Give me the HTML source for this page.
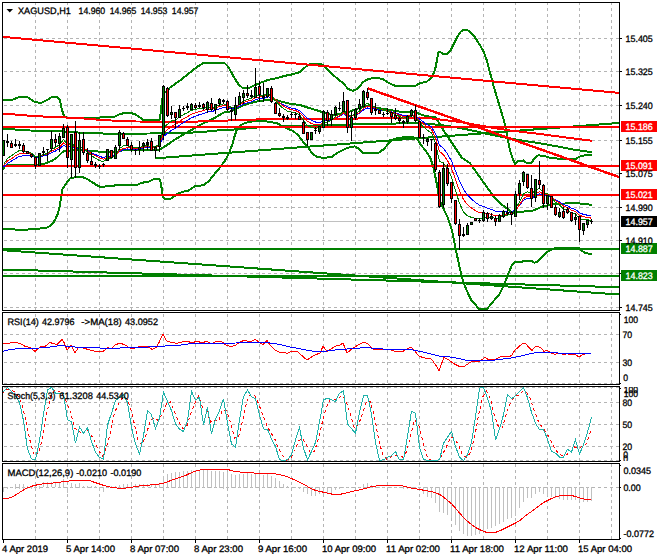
<!DOCTYPE html><html><head><meta charset="utf-8"><style>html,body{margin:0;padding:0;background:#fff;width:660px;height:560px;overflow:hidden}svg text{font-family:"Liberation Sans",sans-serif}</style></head><body><svg width="660" height="560" viewBox="0 0 660 560" shape-rendering="crispEdges" style="display:block">
<rect x="0" y="0" width="660" height="560" fill="#ffffff"/>
<line x1="35.5" y1="3" x2="35.5" y2="310" stroke="#b4b4b4" stroke-width="1" stroke-dasharray="3,3" stroke-dashoffset="1"/>
<line x1="67.5" y1="3" x2="67.5" y2="310" stroke="#b4b4b4" stroke-width="1" stroke-dasharray="3,3" stroke-dashoffset="1"/>
<line x1="99.5" y1="3" x2="99.5" y2="310" stroke="#b4b4b4" stroke-width="1" stroke-dasharray="3,3" stroke-dashoffset="1"/>
<line x1="131.5" y1="3" x2="131.5" y2="310" stroke="#b4b4b4" stroke-width="1" stroke-dasharray="3,3" stroke-dashoffset="1"/>
<line x1="163.5" y1="3" x2="163.5" y2="310" stroke="#b4b4b4" stroke-width="1" stroke-dasharray="3,3" stroke-dashoffset="1"/>
<line x1="195.5" y1="3" x2="195.5" y2="310" stroke="#b4b4b4" stroke-width="1" stroke-dasharray="3,3" stroke-dashoffset="1"/>
<line x1="227.5" y1="3" x2="227.5" y2="310" stroke="#b4b4b4" stroke-width="1" stroke-dasharray="3,3" stroke-dashoffset="1"/>
<line x1="259.5" y1="3" x2="259.5" y2="310" stroke="#b4b4b4" stroke-width="1" stroke-dasharray="3,3" stroke-dashoffset="1"/>
<line x1="291.5" y1="3" x2="291.5" y2="310" stroke="#b4b4b4" stroke-width="1" stroke-dasharray="3,3" stroke-dashoffset="1"/>
<line x1="323.5" y1="3" x2="323.5" y2="310" stroke="#b4b4b4" stroke-width="1" stroke-dasharray="3,3" stroke-dashoffset="1"/>
<line x1="355.5" y1="3" x2="355.5" y2="310" stroke="#b4b4b4" stroke-width="1" stroke-dasharray="3,3" stroke-dashoffset="1"/>
<line x1="387.5" y1="3" x2="387.5" y2="310" stroke="#b4b4b4" stroke-width="1" stroke-dasharray="3,3" stroke-dashoffset="1"/>
<line x1="419.5" y1="3" x2="419.5" y2="310" stroke="#b4b4b4" stroke-width="1" stroke-dasharray="3,3" stroke-dashoffset="1"/>
<line x1="451.5" y1="3" x2="451.5" y2="310" stroke="#b4b4b4" stroke-width="1" stroke-dasharray="3,3" stroke-dashoffset="1"/>
<line x1="483.5" y1="3" x2="483.5" y2="310" stroke="#b4b4b4" stroke-width="1" stroke-dasharray="3,3" stroke-dashoffset="1"/>
<line x1="515.5" y1="3" x2="515.5" y2="310" stroke="#b4b4b4" stroke-width="1" stroke-dasharray="3,3" stroke-dashoffset="1"/>
<line x1="547.5" y1="3" x2="547.5" y2="310" stroke="#b4b4b4" stroke-width="1" stroke-dasharray="3,3" stroke-dashoffset="1"/>
<line x1="579.5" y1="3" x2="579.5" y2="310" stroke="#b4b4b4" stroke-width="1" stroke-dasharray="3,3" stroke-dashoffset="1"/>
<line x1="611.5" y1="3" x2="611.5" y2="310" stroke="#b4b4b4" stroke-width="1" stroke-dasharray="3,3" stroke-dashoffset="1"/>
<line x1="3" y1="38.5" x2="619" y2="38.5" stroke="#b4b4b4" stroke-width="1" stroke-dasharray="3,3" stroke-dashoffset="5"/>
<line x1="3" y1="71.5" x2="619" y2="71.5" stroke="#b4b4b4" stroke-width="1" stroke-dasharray="3,3" stroke-dashoffset="5"/>
<line x1="3" y1="105.5" x2="619" y2="105.5" stroke="#b4b4b4" stroke-width="1" stroke-dasharray="3,3" stroke-dashoffset="5"/>
<line x1="3" y1="140.5" x2="619" y2="140.5" stroke="#b4b4b4" stroke-width="1" stroke-dasharray="3,3" stroke-dashoffset="5"/>
<line x1="3" y1="173.5" x2="619" y2="173.5" stroke="#b4b4b4" stroke-width="1" stroke-dasharray="3,3" stroke-dashoffset="5"/>
<line x1="3" y1="207.5" x2="619" y2="207.5" stroke="#b4b4b4" stroke-width="1" stroke-dasharray="3,3" stroke-dashoffset="5"/>
<line x1="3" y1="240.5" x2="619" y2="240.5" stroke="#b4b4b4" stroke-width="1" stroke-dasharray="3,3" stroke-dashoffset="5"/>
<line x1="3" y1="273.5" x2="619" y2="273.5" stroke="#b4b4b4" stroke-width="1" stroke-dasharray="3,3" stroke-dashoffset="5"/>
<line x1="3" y1="307.5" x2="619" y2="307.5" stroke="#b4b4b4" stroke-width="1" stroke-dasharray="3,3" stroke-dashoffset="5"/>
<line x1="35.5" y1="313" x2="35.5" y2="384" stroke="#b4b4b4" stroke-width="1" stroke-dasharray="3,3" stroke-dashoffset="5"/>
<line x1="67.5" y1="313" x2="67.5" y2="384" stroke="#b4b4b4" stroke-width="1" stroke-dasharray="3,3" stroke-dashoffset="5"/>
<line x1="99.5" y1="313" x2="99.5" y2="384" stroke="#b4b4b4" stroke-width="1" stroke-dasharray="3,3" stroke-dashoffset="5"/>
<line x1="131.5" y1="313" x2="131.5" y2="384" stroke="#b4b4b4" stroke-width="1" stroke-dasharray="3,3" stroke-dashoffset="5"/>
<line x1="163.5" y1="313" x2="163.5" y2="384" stroke="#b4b4b4" stroke-width="1" stroke-dasharray="3,3" stroke-dashoffset="5"/>
<line x1="195.5" y1="313" x2="195.5" y2="384" stroke="#b4b4b4" stroke-width="1" stroke-dasharray="3,3" stroke-dashoffset="5"/>
<line x1="227.5" y1="313" x2="227.5" y2="384" stroke="#b4b4b4" stroke-width="1" stroke-dasharray="3,3" stroke-dashoffset="5"/>
<line x1="259.5" y1="313" x2="259.5" y2="384" stroke="#b4b4b4" stroke-width="1" stroke-dasharray="3,3" stroke-dashoffset="5"/>
<line x1="291.5" y1="313" x2="291.5" y2="384" stroke="#b4b4b4" stroke-width="1" stroke-dasharray="3,3" stroke-dashoffset="5"/>
<line x1="323.5" y1="313" x2="323.5" y2="384" stroke="#b4b4b4" stroke-width="1" stroke-dasharray="3,3" stroke-dashoffset="5"/>
<line x1="355.5" y1="313" x2="355.5" y2="384" stroke="#b4b4b4" stroke-width="1" stroke-dasharray="3,3" stroke-dashoffset="5"/>
<line x1="387.5" y1="313" x2="387.5" y2="384" stroke="#b4b4b4" stroke-width="1" stroke-dasharray="3,3" stroke-dashoffset="5"/>
<line x1="419.5" y1="313" x2="419.5" y2="384" stroke="#b4b4b4" stroke-width="1" stroke-dasharray="3,3" stroke-dashoffset="5"/>
<line x1="451.5" y1="313" x2="451.5" y2="384" stroke="#b4b4b4" stroke-width="1" stroke-dasharray="3,3" stroke-dashoffset="5"/>
<line x1="483.5" y1="313" x2="483.5" y2="384" stroke="#b4b4b4" stroke-width="1" stroke-dasharray="3,3" stroke-dashoffset="5"/>
<line x1="515.5" y1="313" x2="515.5" y2="384" stroke="#b4b4b4" stroke-width="1" stroke-dasharray="3,3" stroke-dashoffset="5"/>
<line x1="547.5" y1="313" x2="547.5" y2="384" stroke="#b4b4b4" stroke-width="1" stroke-dasharray="3,3" stroke-dashoffset="5"/>
<line x1="579.5" y1="313" x2="579.5" y2="384" stroke="#b4b4b4" stroke-width="1" stroke-dasharray="3,3" stroke-dashoffset="5"/>
<line x1="611.5" y1="313" x2="611.5" y2="384" stroke="#b4b4b4" stroke-width="1" stroke-dasharray="3,3" stroke-dashoffset="5"/>
<line x1="3" y1="334.5" x2="619" y2="334.5" stroke="#b4b4b4" stroke-width="1" stroke-dasharray="3,3" stroke-dashoffset="5"/>
<line x1="3" y1="362.5" x2="619" y2="362.5" stroke="#b4b4b4" stroke-width="1" stroke-dasharray="3,3" stroke-dashoffset="5"/>
<line x1="3" y1="383.5" x2="619" y2="383.5" stroke="#b4b4b4" stroke-width="1" stroke-dasharray="3,3" stroke-dashoffset="5"/>
<line x1="35.5" y1="387" x2="35.5" y2="461" stroke="#b4b4b4" stroke-width="1" stroke-dasharray="3,3" stroke-dashoffset="1"/>
<line x1="67.5" y1="387" x2="67.5" y2="461" stroke="#b4b4b4" stroke-width="1" stroke-dasharray="3,3" stroke-dashoffset="1"/>
<line x1="99.5" y1="387" x2="99.5" y2="461" stroke="#b4b4b4" stroke-width="1" stroke-dasharray="3,3" stroke-dashoffset="1"/>
<line x1="131.5" y1="387" x2="131.5" y2="461" stroke="#b4b4b4" stroke-width="1" stroke-dasharray="3,3" stroke-dashoffset="1"/>
<line x1="163.5" y1="387" x2="163.5" y2="461" stroke="#b4b4b4" stroke-width="1" stroke-dasharray="3,3" stroke-dashoffset="1"/>
<line x1="195.5" y1="387" x2="195.5" y2="461" stroke="#b4b4b4" stroke-width="1" stroke-dasharray="3,3" stroke-dashoffset="1"/>
<line x1="227.5" y1="387" x2="227.5" y2="461" stroke="#b4b4b4" stroke-width="1" stroke-dasharray="3,3" stroke-dashoffset="1"/>
<line x1="259.5" y1="387" x2="259.5" y2="461" stroke="#b4b4b4" stroke-width="1" stroke-dasharray="3,3" stroke-dashoffset="1"/>
<line x1="291.5" y1="387" x2="291.5" y2="461" stroke="#b4b4b4" stroke-width="1" stroke-dasharray="3,3" stroke-dashoffset="1"/>
<line x1="323.5" y1="387" x2="323.5" y2="461" stroke="#b4b4b4" stroke-width="1" stroke-dasharray="3,3" stroke-dashoffset="1"/>
<line x1="355.5" y1="387" x2="355.5" y2="461" stroke="#b4b4b4" stroke-width="1" stroke-dasharray="3,3" stroke-dashoffset="1"/>
<line x1="387.5" y1="387" x2="387.5" y2="461" stroke="#b4b4b4" stroke-width="1" stroke-dasharray="3,3" stroke-dashoffset="1"/>
<line x1="419.5" y1="387" x2="419.5" y2="461" stroke="#b4b4b4" stroke-width="1" stroke-dasharray="3,3" stroke-dashoffset="1"/>
<line x1="451.5" y1="387" x2="451.5" y2="461" stroke="#b4b4b4" stroke-width="1" stroke-dasharray="3,3" stroke-dashoffset="1"/>
<line x1="483.5" y1="387" x2="483.5" y2="461" stroke="#b4b4b4" stroke-width="1" stroke-dasharray="3,3" stroke-dashoffset="1"/>
<line x1="515.5" y1="387" x2="515.5" y2="461" stroke="#b4b4b4" stroke-width="1" stroke-dasharray="3,3" stroke-dashoffset="1"/>
<line x1="547.5" y1="387" x2="547.5" y2="461" stroke="#b4b4b4" stroke-width="1" stroke-dasharray="3,3" stroke-dashoffset="1"/>
<line x1="579.5" y1="387" x2="579.5" y2="461" stroke="#b4b4b4" stroke-width="1" stroke-dasharray="3,3" stroke-dashoffset="1"/>
<line x1="611.5" y1="387" x2="611.5" y2="461" stroke="#b4b4b4" stroke-width="1" stroke-dasharray="3,3" stroke-dashoffset="1"/>
<line x1="3" y1="387.5" x2="619" y2="387.5" stroke="#b4b4b4" stroke-width="1" stroke-dasharray="3,3" stroke-dashoffset="5"/>
<line x1="3" y1="402.5" x2="619" y2="402.5" stroke="#b4b4b4" stroke-width="1" stroke-dasharray="3,3" stroke-dashoffset="5"/>
<line x1="3" y1="424.5" x2="619" y2="424.5" stroke="#b4b4b4" stroke-width="1" stroke-dasharray="3,3" stroke-dashoffset="5"/>
<line x1="3" y1="446.5" x2="619" y2="446.5" stroke="#b4b4b4" stroke-width="1" stroke-dasharray="3,3" stroke-dashoffset="5"/>
<line x1="3" y1="460.5" x2="619" y2="460.5" stroke="#b4b4b4" stroke-width="1" stroke-dasharray="3,3" stroke-dashoffset="5"/>
<line x1="35.5" y1="464" x2="35.5" y2="539" stroke="#b4b4b4" stroke-width="1" stroke-dasharray="3,3" stroke-dashoffset="0"/>
<line x1="67.5" y1="464" x2="67.5" y2="539" stroke="#b4b4b4" stroke-width="1" stroke-dasharray="3,3" stroke-dashoffset="0"/>
<line x1="99.5" y1="464" x2="99.5" y2="539" stroke="#b4b4b4" stroke-width="1" stroke-dasharray="3,3" stroke-dashoffset="0"/>
<line x1="131.5" y1="464" x2="131.5" y2="539" stroke="#b4b4b4" stroke-width="1" stroke-dasharray="3,3" stroke-dashoffset="0"/>
<line x1="163.5" y1="464" x2="163.5" y2="539" stroke="#b4b4b4" stroke-width="1" stroke-dasharray="3,3" stroke-dashoffset="0"/>
<line x1="195.5" y1="464" x2="195.5" y2="539" stroke="#b4b4b4" stroke-width="1" stroke-dasharray="3,3" stroke-dashoffset="0"/>
<line x1="227.5" y1="464" x2="227.5" y2="539" stroke="#b4b4b4" stroke-width="1" stroke-dasharray="3,3" stroke-dashoffset="0"/>
<line x1="259.5" y1="464" x2="259.5" y2="539" stroke="#b4b4b4" stroke-width="1" stroke-dasharray="3,3" stroke-dashoffset="0"/>
<line x1="291.5" y1="464" x2="291.5" y2="539" stroke="#b4b4b4" stroke-width="1" stroke-dasharray="3,3" stroke-dashoffset="0"/>
<line x1="323.5" y1="464" x2="323.5" y2="539" stroke="#b4b4b4" stroke-width="1" stroke-dasharray="3,3" stroke-dashoffset="0"/>
<line x1="355.5" y1="464" x2="355.5" y2="539" stroke="#b4b4b4" stroke-width="1" stroke-dasharray="3,3" stroke-dashoffset="0"/>
<line x1="387.5" y1="464" x2="387.5" y2="539" stroke="#b4b4b4" stroke-width="1" stroke-dasharray="3,3" stroke-dashoffset="0"/>
<line x1="419.5" y1="464" x2="419.5" y2="539" stroke="#b4b4b4" stroke-width="1" stroke-dasharray="3,3" stroke-dashoffset="0"/>
<line x1="451.5" y1="464" x2="451.5" y2="539" stroke="#b4b4b4" stroke-width="1" stroke-dasharray="3,3" stroke-dashoffset="0"/>
<line x1="483.5" y1="464" x2="483.5" y2="539" stroke="#b4b4b4" stroke-width="1" stroke-dasharray="3,3" stroke-dashoffset="0"/>
<line x1="515.5" y1="464" x2="515.5" y2="539" stroke="#b4b4b4" stroke-width="1" stroke-dasharray="3,3" stroke-dashoffset="0"/>
<line x1="547.5" y1="464" x2="547.5" y2="539" stroke="#b4b4b4" stroke-width="1" stroke-dasharray="3,3" stroke-dashoffset="0"/>
<line x1="579.5" y1="464" x2="579.5" y2="539" stroke="#b4b4b4" stroke-width="1" stroke-dasharray="3,3" stroke-dashoffset="0"/>
<line x1="611.5" y1="464" x2="611.5" y2="539" stroke="#b4b4b4" stroke-width="1" stroke-dasharray="3,3" stroke-dashoffset="0"/>
<line x1="3" y1="487.5" x2="619" y2="487.5" stroke="#b4b4b4" stroke-width="1" stroke-dasharray="3,3" stroke-dashoffset="5"/>
<clipPath id="c0"><rect x="3" y="3" width="616" height="307"/></clipPath>
<g clip-path="url(#c0)">
<rect x="3" y="221" width="616" height="1" fill="#c0c0c0"/>
<polyline points="3.0,100.0 13.0,99.5 20.0,96.7 27.0,97.0 35.0,102.0 41.0,103.0 47.0,100.0 52.0,97.0 57.0,97.0 60.0,100.0 62.0,110.0 64.0,116.0 67.0,118.0 80.0,118.3 95.0,118.0 105.0,117.0 115.0,116.5 120.0,114.0 125.0,113.0 130.0,113.0 135.0,114.0 140.0,117.5 143.0,119.7 150.0,120.2 158.0,120.5 160.0,119.0 161.0,110.0 162.0,100.0 164.0,93.0 167.0,91.0 170.0,87.5 175.0,84.0 180.0,80.5 187.0,75.0 193.0,70.0 197.0,67.0 200.0,65.0 203.0,63.3 206.0,62.5 222.0,62.5 225.0,63.5 228.0,66.5 231.0,71.7 235.0,79.0 239.0,85.0 243.0,88.2 248.0,88.3 253.0,86.0 260.0,83.0 268.0,80.0 277.0,78.0 285.0,75.8 293.0,74.2 300.0,72.0 305.0,67.5 308.0,64.7 313.0,63.7 320.0,63.7 324.0,65.5 328.0,70.0 336.0,77.5 344.0,84.0 348.0,89.0 353.0,90.8 358.0,88.5 363.0,82.0 368.0,79.2 376.0,77.5 383.0,79.2 388.0,82.5 395.0,85.8 405.0,86.5 415.0,86.0 420.0,83.3 426.7,81.7 431.7,77.5 435.0,70.0 436.7,61.7 438.3,52.5 440.0,51.7 442.5,53.7 447.5,53.7 450.8,50.0 454.2,43.3 457.5,36.7 460.8,31.7 463.3,30.0 466.7,29.7 470.0,31.7 474.2,36.3 478.3,42.5 483.3,50.8 486.7,60.0 490.0,72.5 493.3,85.0 496.7,96.7 500.0,107.5 503.3,118.3 505.8,128.3 507.5,138.3 510.0,150.0 512.5,158.3 515.0,164.2 518.3,161.0 523.3,160.5 526.0,162.5 531.7,162.5 535.0,157.5 538.3,155.3 543.3,155.8 551.7,158.3 565.0,158.8 575.0,159.2 580.0,156.5 585.0,155.3 592.0,155.3" fill="none" stroke="#008000" stroke-width="2" />
<polyline points="3.0,229.0 14.0,229.0 16.0,230.0 27.0,230.0 29.0,229.0 39.0,229.0 41.0,228.0 47.0,227.5 50.0,226.0 52.0,224.5 55.0,220.0 58.0,213.3 60.0,205.0 62.0,190.0 65.0,185.0 70.0,178.5 75.0,177.3 83.0,177.3 88.0,179.5 93.0,182.7 98.0,186.0 100.0,186.7 113.0,186.2 115.0,185.2 137.0,185.0 141.7,182.7 148.3,182.0 153.3,179.3 159.3,178.7 161.0,183.3 162.7,197.3 165.0,199.0 170.0,199.0 175.0,196.0 178.3,193.3 183.3,191.7 188.3,190.7 195.0,186.0 203.3,185.3 208.3,181.7 215.5,172.7 221.5,165.7 226.4,158.4 229.4,152.3 232.5,143.8 234.9,135.3 236.7,129.9 239.8,125.6 244.6,123.2 250.7,121.6 258.0,121.2 265.0,121.3 271.0,122.0 277.0,123.3 285.0,127.5 293.0,131.0 298.0,135.0 303.0,141.6 307.5,146.7 312.0,153.0 317.0,157.2 325.0,157.8 332.0,156.7 338.2,152.4 345.5,148.8 350.0,147.2 355.0,146.4 358.8,148.8 363.6,153.2 378.0,153.2 384.2,148.8 389.0,142.7 394.0,139.1 398.0,138.0 410.0,136.7 416.7,138.3 421.0,145.0 425.0,150.0 430.0,157.0 433.3,167.0 436.7,183.3 439.5,200.0 443.3,208.3 447.5,217.0 450.8,226.7 452.1,231.0 455.8,249.4 459.4,266.4 463.0,280.9 466.7,290.6 471.5,300.3 478.8,308.6 487.3,308.6 492.1,302.7 499.4,294.2 504.2,284.5 507.9,274.8 511.5,265.9 515.2,262.0 521.2,262.0 523.6,261.0 530.9,260.5 534.5,262.7 537.0,262.0 541.8,257.2 546.7,252.3 551.5,249.4 557.6,247.5 578.2,247.5 581.8,250.6 585.5,253.0 592.0,254.2" fill="none" stroke="#008000" stroke-width="2" />
<polyline points="3.0,170.0 5.0,166.0 8.0,164.5 40.0,164.5 45.0,163.5 52.0,160.8 57.0,157.5 62.0,152.5 65.0,150.8 70.0,150.5 85.0,150.0 90.0,150.8 100.0,151.7 105.0,152.0 112.0,151.8 118.0,151.5 122.0,150.5 127.0,150.2 150.0,150.2 158.0,150.0 160.6,149.2 168.0,144.4 171.7,141.7 180.0,136.5 188.3,131.7 196.0,127.5 202.0,123.8 208.0,121.4 214.0,118.3 220.0,114.7 224.0,112.5 230.0,111.5 235.0,109.3 243.3,105.3 251.7,102.7 260.0,100.8 268.3,100.0 273.3,99.4 276.7,100.0 281.7,101.7 290.0,103.7 300.0,105.0 310.0,108.3 320.0,111.3 331.7,115.0 340.0,113.8 350.0,111.5 358.0,108.5 364.0,106.5 370.0,106.2 376.0,107.5 383.0,109.0 390.0,110.0 400.0,111.7 410.0,112.2 415.0,112.5 420.0,114.0 425.0,116.0 430.0,116.7 436.0,117.5 438.3,121.7 443.3,130.0 450.0,140.0 456.7,150.0 461.7,157.5 470.0,163.3 478.3,175.0 486.7,186.7 495.0,198.3 503.3,205.8 510.0,210.8 513.3,213.3 520.0,211.9 533.0,210.5 537.0,209.0 541.7,206.7 553.0,204.0 565.0,203.5 578.3,203.3 586.7,204.2 592.0,205.0" fill="none" stroke="#008000" stroke-width="2" />
<polyline points="3.0,128.5 15.0,129.5 30.0,130.5 60.0,131.3 85.0,133.0 110.0,133.7 150.0,133.5 190.0,132.7 202.0,132.0 214.3,130.7 226.4,129.9 238.5,129.3 250.7,128.0 262.8,127.0 300.0,126.0 360.0,124.3 410.0,123.2 425.0,123.5 440.0,125.0 455.0,127.0 470.0,130.0 490.0,134.5 507.0,138.0 523.3,140.8 540.0,143.3 556.7,146.3 573.3,149.5 592.0,152.2" fill="none" stroke="#008000" stroke-width="2" />
<polyline points="155.5,158.3 619.0,123.0" fill="none" stroke="#008000" stroke-width="2" />
<polyline points="3.0,250.2 619.0,294.5" fill="none" stroke="#008000" stroke-width="2" />
<polyline points="3.0,269.5 619.0,287.2" fill="none" stroke="#008000" stroke-width="2" />
<rect x="3" y="248" width="616" height="2" fill="#008000"/>
<rect x="3" y="275" width="616" height="2" fill="#008000"/>
<polyline points="3.0,114.0 15.0,114.5 27.0,115.5 43.0,116.5 70.0,117.7 84.0,118.5 95.5,119.5 111.4,120.5 135.7,121.5 192.0,121.7 228.0,120.5 256.0,119.5 300.0,119.0 345.0,118.7 380.0,118.2 400.0,117.7 430.0,118.3 460.0,122.0 490.0,127.3 510.0,130.5 540.0,134.0 570.0,138.0 592.0,140.8" fill="none" stroke="#ff0000" stroke-width="2" />
<polyline points="3.0,36.9 619.0,92.9" fill="none" stroke="#ff0000" stroke-width="2" />
<polyline points="367.5,88.3 619.0,177.0" fill="none" stroke="#ff0000" stroke-width="2.4" />
<rect x="3" y="126" width="616" height="2" fill="#ff0000"/>
<rect x="3" y="165" width="616" height="2" fill="#ff0000"/>
<rect x="3" y="194" width="616" height="2" fill="#ff0000"/>
<polyline points="3.5,167.0 7.5,163.4 11.5,161.0 15.5,158.5 19.5,156.4 23.5,155.8 27.5,155.5 31.5,155.7 35.5,157.3 39.5,156.7 43.5,155.9 47.5,155.0 51.5,152.5 55.5,151.1 59.5,148.7 63.5,145.4 67.5,147.3 71.5,145.3 75.5,148.8 79.5,147.5 83.5,148.4 87.5,150.4 91.5,152.7 95.5,154.6 99.5,156.4 103.5,157.6 107.5,156.3 111.5,156.6 115.5,155.1 119.5,151.5 123.5,149.6 127.5,149.0 131.5,149.1 135.5,149.3 139.5,148.9 143.5,148.0 147.5,147.3 151.5,147.8 155.5,147.7 159.5,145.7 163.5,136.5 167.5,133.3 171.5,130.1 175.5,128.1 179.5,125.2 183.5,122.5 187.5,120.3 191.5,117.8 195.5,116.2 199.5,114.6 203.5,113.6 207.5,111.9 211.5,111.6 215.5,110.4 219.5,108.7 223.5,107.7 227.5,108.0 231.5,108.7 235.5,108.1 239.5,106.2 243.5,104.2 247.5,102.9 251.5,101.9 255.5,99.5 259.5,98.8 263.5,98.5 267.5,96.8 271.5,97.5 275.5,100.0 279.5,102.6 283.5,104.9 287.5,106.9 291.5,108.1 295.5,109.0 299.5,110.8 303.5,114.4 307.5,118.3 311.5,120.4 315.5,122.0 319.5,122.6 323.5,120.8 327.5,120.8 331.5,119.8 335.5,117.8 339.5,116.3 343.5,113.9 347.5,116.2 351.5,116.2 355.5,115.2 359.5,113.5 363.5,109.9 367.5,108.0 371.5,108.8 375.5,109.0 379.5,109.8 383.5,110.5 387.5,111.0 391.5,111.9 395.5,113.0 399.5,114.3 403.5,115.5 407.5,115.5 411.5,114.7 415.5,115.7 419.5,119.1 423.5,122.0 427.5,124.6 431.5,127.0 435.5,133.7 439.5,145.0 443.5,148.5 447.5,154.0 451.5,161.0 455.5,170.8 459.5,180.9 463.5,189.3 467.5,194.9 471.5,199.0 475.5,202.4 479.5,205.3 483.5,206.3 487.5,208.2 491.5,209.4 495.5,211.4 499.5,211.9 503.5,211.8 507.5,212.0 511.5,212.4 515.5,209.6 519.5,205.5 523.5,200.4 527.5,198.4 531.5,198.5 535.5,195.5 539.5,193.9 543.5,195.5 547.5,195.4 551.5,197.3 555.5,200.1 559.5,202.0 563.5,204.5 567.5,205.9 571.5,208.2 575.5,209.5 579.5,212.7 583.5,214.4 587.5,215.2 591.5,216.1" fill="none" stroke="#0000ff" stroke-width="1" />
<polyline points="3.5,165.6 7.5,161.1 11.5,158.6 15.5,155.9 19.5,153.7 23.5,153.3 27.5,153.5 31.5,154.1 35.5,156.5 39.5,155.9 43.5,155.1 47.5,154.0 51.5,151.0 55.5,149.5 59.5,146.8 63.5,142.9 67.5,145.8 71.5,143.5 75.5,148.4 79.5,146.8 83.5,148.1 87.5,150.7 91.5,153.6 95.5,155.9 99.5,157.9 103.5,159.3 107.5,157.2 111.5,157.4 115.5,155.3 119.5,150.6 123.5,148.3 127.5,147.8 131.5,148.2 135.5,148.7 139.5,148.3 143.5,147.2 147.5,146.5 151.5,147.3 155.5,147.2 159.5,144.8 163.5,133.1 167.5,129.7 171.5,126.2 175.5,124.5 179.5,121.4 183.5,118.7 187.5,116.6 191.5,114.1 195.5,112.8 199.5,111.4 203.5,110.8 207.5,109.1 211.5,109.3 215.5,108.3 219.5,106.5 223.5,105.6 227.5,106.4 231.5,107.6 235.5,107.1 239.5,104.8 243.5,102.5 247.5,101.2 251.5,100.2 255.5,97.5 259.5,97.0 263.5,96.9 267.5,95.0 271.5,96.4 275.5,99.8 279.5,103.1 283.5,106.0 287.5,108.4 291.5,109.6 295.5,110.5 299.5,112.5 303.5,116.8 307.5,121.4 311.5,123.5 315.5,124.9 319.5,125.0 323.5,122.3 327.5,122.0 331.5,120.4 335.5,117.8 339.5,115.9 343.5,112.9 347.5,115.9 351.5,116.1 355.5,114.7 359.5,112.6 363.5,108.3 367.5,106.1 371.5,107.5 375.5,108.0 379.5,109.2 383.5,110.2 387.5,110.9 391.5,112.1 395.5,113.5 399.5,115.1 403.5,116.5 407.5,116.3 411.5,115.1 415.5,116.3 419.5,120.6 423.5,124.0 427.5,127.0 431.5,129.5 435.5,137.7 439.5,151.5 443.5,154.7 447.5,160.6 451.5,168.3 455.5,179.5 459.5,190.8 463.5,199.6 467.5,204.8 471.5,208.1 475.5,210.7 479.5,212.7 483.5,212.6 487.5,213.8 491.5,214.2 495.5,215.9 499.5,215.6 503.5,214.8 507.5,214.4 511.5,214.5 515.5,210.4 519.5,205.0 523.5,198.5 527.5,196.3 531.5,196.8 535.5,193.3 539.5,191.7 543.5,194.2 547.5,194.4 551.5,197.0 555.5,200.6 559.5,203.0 563.5,206.0 567.5,207.5 571.5,210.2 575.5,211.5 579.5,215.2 583.5,216.8 587.5,217.4 591.5,218.2" fill="none" stroke="#ff0000" stroke-width="1" />
<polyline points="3.5,164.5 7.5,158.5 11.5,155.7 15.5,152.7 19.5,150.5 23.5,150.9 27.5,151.8 31.5,153.2 35.5,156.8 39.5,155.8 43.5,154.7 47.5,153.3 51.5,149.3 55.5,147.6 59.5,144.4 63.5,139.7 67.5,144.6 71.5,141.7 75.5,149.1 79.5,146.7 83.5,148.5 87.5,152.0 91.5,155.7 95.5,158.3 99.5,160.5 103.5,161.7 107.5,158.1 111.5,158.2 115.5,155.0 119.5,148.5 123.5,145.9 127.5,145.8 131.5,147.0 135.5,148.0 139.5,147.6 143.5,146.3 147.5,145.5 151.5,147.0 155.5,146.9 159.5,143.7 163.5,127.6 167.5,124.3 171.5,121.0 175.5,120.0 179.5,116.9 183.5,114.5 187.5,112.7 191.5,110.3 195.5,109.5 199.5,108.4 203.5,108.4 207.5,106.7 211.5,107.7 215.5,106.7 219.5,104.6 223.5,103.9 227.5,105.5 231.5,107.5 235.5,106.8 239.5,103.7 243.5,100.8 247.5,99.4 251.5,98.5 255.5,95.2 259.5,95.1 263.5,95.6 267.5,93.3 271.5,95.7 275.5,100.7 279.5,105.1 283.5,108.6 287.5,111.2 291.5,112.1 295.5,112.7 299.5,114.8 303.5,120.3 307.5,125.7 311.5,127.4 315.5,128.3 319.5,127.5 323.5,123.0 327.5,122.4 331.5,120.1 335.5,116.4 339.5,114.2 343.5,110.4 347.5,115.4 351.5,115.8 355.5,113.9 359.5,111.2 363.5,105.5 367.5,103.3 371.5,106.0 375.5,107.1 379.5,109.1 383.5,110.5 387.5,111.4 391.5,112.9 395.5,114.7 399.5,116.5 403.5,118.1 407.5,117.4 411.5,115.5 415.5,117.0 419.5,122.8 423.5,127.0 427.5,130.3 431.5,133.0 435.5,143.5 439.5,161.2 443.5,162.9 447.5,168.9 451.5,177.4 455.5,190.5 459.5,203.2 463.5,212.1 467.5,215.8 471.5,217.4 475.5,218.4 479.5,219.1 483.5,217.1 487.5,217.5 491.5,217.0 495.5,218.6 499.5,217.5 503.5,215.8 507.5,215.0 511.5,214.9 515.5,209.1 519.5,201.9 523.5,193.6 527.5,191.9 531.5,193.9 535.5,189.8 539.5,188.5 543.5,192.9 547.5,193.5 551.5,197.4 555.5,202.3 559.5,205.2 563.5,208.9 567.5,210.1 571.5,213.1 575.5,214.1 579.5,218.6 583.5,219.9 587.5,219.9 591.5,220.3" fill="none" stroke="#008000" stroke-width="1" />
<rect x="3" y="140" width="1" height="16" fill="#000"/>
<rect x="2" y="140" width="3" height="16" fill="#000"/>
<rect x="3" y="141" width="1" height="14" fill="#008000"/>
<rect x="7" y="134" width="1" height="13" fill="#000"/>
<rect x="6" y="141" width="3" height="2" fill="#000"/>
<rect x="11" y="141" width="1" height="7" fill="#000"/>
<rect x="10" y="143" width="3" height="5" fill="#000"/>
<rect x="11" y="144" width="1" height="3" fill="#ff0000"/>
<rect x="15" y="139" width="1" height="8" fill="#000"/>
<rect x="14" y="144" width="3" height="2" fill="#000"/>
<rect x="19" y="141" width="1" height="8" fill="#000"/>
<rect x="18" y="144" width="3" height="2" fill="#000"/>
<rect x="23" y="143" width="1" height="10" fill="#000"/>
<rect x="22" y="145" width="3" height="7" fill="#000"/>
<rect x="23" y="146" width="1" height="5" fill="#ff0000"/>
<rect x="27" y="151" width="1" height="3" fill="#000"/>
<rect x="26" y="151" width="3" height="3" fill="#000"/>
<rect x="27" y="152" width="1" height="1" fill="#ff0000"/>
<rect x="31" y="154" width="1" height="4" fill="#000"/>
<rect x="30" y="154" width="3" height="3" fill="#000"/>
<rect x="31" y="155" width="1" height="1" fill="#ff0000"/>
<rect x="35" y="157" width="1" height="12" fill="#000"/>
<rect x="34" y="157" width="3" height="9" fill="#000"/>
<rect x="35" y="158" width="1" height="7" fill="#ff0000"/>
<rect x="39" y="153" width="1" height="13" fill="#000"/>
<rect x="38" y="153" width="3" height="13" fill="#000"/>
<rect x="39" y="154" width="1" height="11" fill="#008000"/>
<rect x="43" y="147" width="1" height="9" fill="#000"/>
<rect x="42" y="151" width="3" height="2" fill="#000"/>
<rect x="47" y="149" width="1" height="12" fill="#000"/>
<rect x="46" y="149" width="3" height="1" fill="#000"/>
<rect x="51" y="131" width="1" height="20" fill="#000"/>
<rect x="50" y="139" width="3" height="10" fill="#000"/>
<rect x="51" y="140" width="1" height="8" fill="#008000"/>
<rect x="55" y="134" width="1" height="13" fill="#000"/>
<rect x="54" y="139" width="3" height="4" fill="#000"/>
<rect x="55" y="140" width="1" height="2" fill="#ff0000"/>
<rect x="59" y="133" width="1" height="19" fill="#000"/>
<rect x="58" y="136" width="3" height="8" fill="#000"/>
<rect x="59" y="137" width="1" height="6" fill="#008000"/>
<rect x="63" y="124" width="1" height="14" fill="#000"/>
<rect x="62" y="128" width="3" height="10" fill="#000"/>
<rect x="63" y="129" width="1" height="8" fill="#008000"/>
<rect x="67" y="125" width="1" height="43" fill="#000"/>
<rect x="66" y="127" width="3" height="31" fill="#000"/>
<rect x="67" y="128" width="1" height="29" fill="#ff0000"/>
<rect x="71" y="134" width="1" height="44" fill="#000"/>
<rect x="70" y="134" width="3" height="26" fill="#000"/>
<rect x="71" y="135" width="1" height="24" fill="#008000"/>
<rect x="75" y="121" width="1" height="57" fill="#000"/>
<rect x="74" y="132" width="3" height="36" fill="#000"/>
<rect x="75" y="133" width="1" height="34" fill="#ff0000"/>
<rect x="79" y="132" width="1" height="41" fill="#000"/>
<rect x="78" y="140" width="3" height="28" fill="#000"/>
<rect x="79" y="141" width="1" height="26" fill="#008000"/>
<rect x="83" y="132" width="1" height="23" fill="#000"/>
<rect x="82" y="139" width="3" height="14" fill="#000"/>
<rect x="83" y="140" width="1" height="12" fill="#ff0000"/>
<rect x="87" y="148" width="1" height="15" fill="#000"/>
<rect x="86" y="153" width="3" height="8" fill="#000"/>
<rect x="87" y="154" width="1" height="6" fill="#ff0000"/>
<rect x="91" y="152" width="1" height="13" fill="#000"/>
<rect x="90" y="161" width="3" height="4" fill="#000"/>
<rect x="91" y="162" width="1" height="2" fill="#ff0000"/>
<rect x="95" y="162" width="1" height="6" fill="#000"/>
<rect x="94" y="164" width="3" height="2" fill="#000"/>
<rect x="99" y="164" width="1" height="5" fill="#000"/>
<rect x="98" y="166" width="3" height="1" fill="#000"/>
<rect x="103" y="163" width="1" height="4" fill="#000"/>
<rect x="102" y="164" width="3" height="1" fill="#000"/>
<rect x="107" y="149" width="1" height="12" fill="#000"/>
<rect x="106" y="149" width="3" height="12" fill="#000"/>
<rect x="107" y="150" width="1" height="10" fill="#008000"/>
<rect x="111" y="150" width="1" height="8" fill="#000"/>
<rect x="110" y="150" width="3" height="8" fill="#000"/>
<rect x="111" y="151" width="1" height="6" fill="#ff0000"/>
<rect x="115" y="145" width="1" height="14" fill="#000"/>
<rect x="114" y="147" width="3" height="12" fill="#000"/>
<rect x="115" y="148" width="1" height="10" fill="#008000"/>
<rect x="119" y="130" width="1" height="20" fill="#000"/>
<rect x="118" y="132" width="3" height="14" fill="#000"/>
<rect x="119" y="133" width="1" height="12" fill="#008000"/>
<rect x="123" y="132" width="1" height="7" fill="#000"/>
<rect x="122" y="133" width="3" height="6" fill="#000"/>
<rect x="123" y="134" width="1" height="4" fill="#ff0000"/>
<rect x="127" y="137" width="1" height="9" fill="#000"/>
<rect x="126" y="139" width="3" height="7" fill="#000"/>
<rect x="127" y="140" width="1" height="5" fill="#ff0000"/>
<rect x="131" y="142" width="1" height="10" fill="#000"/>
<rect x="130" y="145" width="3" height="5" fill="#000"/>
<rect x="131" y="146" width="1" height="3" fill="#ff0000"/>
<rect x="135" y="149" width="1" height="6" fill="#000"/>
<rect x="134" y="150" width="3" height="1" fill="#000"/>
<rect x="139" y="141" width="1" height="14" fill="#000"/>
<rect x="138" y="147" width="3" height="3" fill="#000"/>
<rect x="139" y="148" width="1" height="1" fill="#008000"/>
<rect x="143" y="142" width="1" height="10" fill="#000"/>
<rect x="142" y="143" width="3" height="3" fill="#000"/>
<rect x="143" y="144" width="1" height="1" fill="#008000"/>
<rect x="147" y="139" width="1" height="11" fill="#000"/>
<rect x="146" y="142" width="3" height="3" fill="#000"/>
<rect x="151" y="138" width="1" height="13" fill="#000"/>
<rect x="150" y="141" width="3" height="10" fill="#000"/>
<rect x="151" y="142" width="1" height="8" fill="#ff0000"/>
<rect x="155" y="146" width="1" height="12" fill="#000"/>
<rect x="154" y="147" width="3" height="4" fill="#000"/>
<rect x="155" y="148" width="1" height="2" fill="#008000"/>
<rect x="159" y="135" width="1" height="17" fill="#000"/>
<rect x="158" y="135" width="3" height="12" fill="#000"/>
<rect x="159" y="136" width="1" height="10" fill="#008000"/>
<rect x="163" y="85" width="1" height="55" fill="#000"/>
<rect x="162" y="86" width="3" height="49" fill="#000"/>
<rect x="163" y="87" width="1" height="47" fill="#008000"/>
<rect x="167" y="87" width="1" height="30" fill="#000"/>
<rect x="166" y="88" width="3" height="28" fill="#000"/>
<rect x="167" y="89" width="1" height="26" fill="#ff0000"/>
<rect x="171" y="106" width="1" height="13" fill="#000"/>
<rect x="170" y="112" width="3" height="3" fill="#000"/>
<rect x="171" y="113" width="1" height="1" fill="#008000"/>
<rect x="175" y="112" width="1" height="16" fill="#000"/>
<rect x="174" y="112" width="3" height="6" fill="#000"/>
<rect x="175" y="113" width="1" height="4" fill="#ff0000"/>
<rect x="179" y="105" width="1" height="13" fill="#000"/>
<rect x="178" y="109" width="3" height="9" fill="#000"/>
<rect x="179" y="110" width="1" height="7" fill="#008000"/>
<rect x="183" y="106" width="1" height="5" fill="#000"/>
<rect x="182" y="108" width="3" height="1" fill="#000"/>
<rect x="187" y="103" width="1" height="7" fill="#000"/>
<rect x="186" y="106" width="3" height="2" fill="#000"/>
<rect x="191" y="103" width="1" height="7" fill="#000"/>
<rect x="190" y="104" width="3" height="6" fill="#000"/>
<rect x="191" y="105" width="1" height="4" fill="#008000"/>
<rect x="195" y="103" width="1" height="6" fill="#000"/>
<rect x="194" y="105" width="3" height="3" fill="#000"/>
<rect x="195" y="106" width="1" height="1" fill="#ff0000"/>
<rect x="199" y="102" width="1" height="6" fill="#000"/>
<rect x="198" y="105" width="3" height="2" fill="#000"/>
<rect x="203" y="103" width="1" height="7" fill="#000"/>
<rect x="202" y="104" width="3" height="4" fill="#000"/>
<rect x="203" y="105" width="1" height="2" fill="#ff0000"/>
<rect x="207" y="101" width="1" height="12" fill="#000"/>
<rect x="206" y="102" width="3" height="8" fill="#000"/>
<rect x="207" y="103" width="1" height="6" fill="#008000"/>
<rect x="211" y="98" width="1" height="13" fill="#000"/>
<rect x="210" y="103" width="3" height="7" fill="#000"/>
<rect x="211" y="104" width="1" height="5" fill="#ff0000"/>
<rect x="215" y="104" width="1" height="10" fill="#000"/>
<rect x="214" y="104" width="3" height="6" fill="#000"/>
<rect x="215" y="105" width="1" height="4" fill="#008000"/>
<rect x="219" y="98" width="1" height="8" fill="#000"/>
<rect x="218" y="99" width="3" height="5" fill="#000"/>
<rect x="219" y="100" width="1" height="3" fill="#008000"/>
<rect x="223" y="99" width="1" height="5" fill="#000"/>
<rect x="222" y="100" width="3" height="2" fill="#000"/>
<rect x="227" y="100" width="1" height="11" fill="#000"/>
<rect x="226" y="101" width="3" height="9" fill="#000"/>
<rect x="227" y="102" width="1" height="7" fill="#ff0000"/>
<rect x="231" y="107" width="1" height="14" fill="#000"/>
<rect x="230" y="110" width="3" height="2" fill="#000"/>
<rect x="235" y="97" width="1" height="23" fill="#000"/>
<rect x="234" y="105" width="3" height="10" fill="#000"/>
<rect x="235" y="106" width="1" height="8" fill="#008000"/>
<rect x="239" y="92" width="1" height="13" fill="#000"/>
<rect x="238" y="96" width="3" height="9" fill="#000"/>
<rect x="239" y="97" width="1" height="7" fill="#008000"/>
<rect x="243" y="90" width="1" height="14" fill="#000"/>
<rect x="242" y="93" width="3" height="5" fill="#000"/>
<rect x="243" y="94" width="1" height="3" fill="#008000"/>
<rect x="247" y="85" width="1" height="13" fill="#000"/>
<rect x="246" y="93" width="3" height="3" fill="#000"/>
<rect x="247" y="94" width="1" height="1" fill="#ff0000"/>
<rect x="251" y="90" width="1" height="8" fill="#000"/>
<rect x="250" y="95" width="3" height="2" fill="#000"/>
<rect x="255" y="68" width="1" height="30" fill="#000"/>
<rect x="254" y="87" width="3" height="11" fill="#000"/>
<rect x="255" y="88" width="1" height="9" fill="#008000"/>
<rect x="259" y="81" width="1" height="21" fill="#000"/>
<rect x="258" y="86" width="3" height="9" fill="#000"/>
<rect x="259" y="87" width="1" height="7" fill="#ff0000"/>
<rect x="263" y="83" width="1" height="19" fill="#000"/>
<rect x="262" y="96" width="3" height="2" fill="#000"/>
<rect x="267" y="88" width="1" height="10" fill="#000"/>
<rect x="266" y="88" width="3" height="9" fill="#000"/>
<rect x="267" y="89" width="1" height="7" fill="#008000"/>
<rect x="271" y="86" width="1" height="17" fill="#000"/>
<rect x="270" y="88" width="3" height="14" fill="#000"/>
<rect x="271" y="89" width="1" height="12" fill="#ff0000"/>
<rect x="275" y="102" width="1" height="12" fill="#000"/>
<rect x="274" y="103" width="3" height="11" fill="#000"/>
<rect x="275" y="104" width="1" height="9" fill="#ff0000"/>
<rect x="279" y="108" width="1" height="9" fill="#000"/>
<rect x="278" y="113" width="3" height="3" fill="#000"/>
<rect x="279" y="114" width="1" height="1" fill="#ff0000"/>
<rect x="283" y="114" width="1" height="8" fill="#000"/>
<rect x="282" y="116" width="3" height="2" fill="#000"/>
<rect x="287" y="115" width="1" height="5" fill="#000"/>
<rect x="286" y="117" width="3" height="2" fill="#000"/>
<rect x="291" y="112" width="1" height="6" fill="#000"/>
<rect x="290" y="114" width="3" height="1" fill="#000"/>
<rect x="295" y="112" width="1" height="7" fill="#000"/>
<rect x="294" y="114" width="3" height="1" fill="#000"/>
<rect x="299" y="113" width="1" height="7" fill="#000"/>
<rect x="298" y="116" width="3" height="4" fill="#000"/>
<rect x="299" y="117" width="1" height="2" fill="#ff0000"/>
<rect x="303" y="120" width="1" height="14" fill="#000"/>
<rect x="302" y="122" width="3" height="12" fill="#000"/>
<rect x="303" y="123" width="1" height="10" fill="#ff0000"/>
<rect x="307" y="132" width="1" height="14" fill="#000"/>
<rect x="306" y="132" width="3" height="8" fill="#000"/>
<rect x="307" y="133" width="1" height="6" fill="#ff0000"/>
<rect x="311" y="132" width="1" height="8" fill="#000"/>
<rect x="310" y="132" width="3" height="8" fill="#000"/>
<rect x="311" y="133" width="1" height="6" fill="#008000"/>
<rect x="315" y="127" width="1" height="7" fill="#000"/>
<rect x="314" y="130" width="3" height="1" fill="#000"/>
<rect x="319" y="126" width="1" height="8" fill="#000"/>
<rect x="318" y="126" width="3" height="6" fill="#000"/>
<rect x="319" y="127" width="1" height="4" fill="#008000"/>
<rect x="323" y="110" width="1" height="18" fill="#000"/>
<rect x="322" y="111" width="3" height="17" fill="#000"/>
<rect x="323" y="112" width="1" height="15" fill="#008000"/>
<rect x="327" y="110" width="1" height="16" fill="#000"/>
<rect x="326" y="112" width="3" height="9" fill="#000"/>
<rect x="327" y="113" width="1" height="7" fill="#ff0000"/>
<rect x="331" y="110" width="1" height="16" fill="#000"/>
<rect x="330" y="114" width="3" height="6" fill="#000"/>
<rect x="331" y="115" width="1" height="4" fill="#008000"/>
<rect x="335" y="106" width="1" height="10" fill="#000"/>
<rect x="334" y="107" width="3" height="8" fill="#000"/>
<rect x="335" y="108" width="1" height="6" fill="#008000"/>
<rect x="339" y="102" width="1" height="9" fill="#000"/>
<rect x="338" y="108" width="3" height="1" fill="#000"/>
<rect x="343" y="92" width="1" height="20" fill="#000"/>
<rect x="342" y="101" width="3" height="11" fill="#000"/>
<rect x="343" y="102" width="1" height="9" fill="#008000"/>
<rect x="347" y="100" width="1" height="33" fill="#000"/>
<rect x="346" y="100" width="3" height="28" fill="#000"/>
<rect x="347" y="101" width="1" height="26" fill="#ff0000"/>
<rect x="351" y="111" width="1" height="30" fill="#000"/>
<rect x="350" y="117" width="3" height="11" fill="#000"/>
<rect x="351" y="118" width="1" height="9" fill="#008000"/>
<rect x="355" y="108" width="1" height="12" fill="#000"/>
<rect x="354" y="109" width="3" height="9" fill="#000"/>
<rect x="355" y="110" width="1" height="7" fill="#008000"/>
<rect x="359" y="99" width="1" height="11" fill="#000"/>
<rect x="358" y="104" width="3" height="5" fill="#000"/>
<rect x="359" y="105" width="1" height="3" fill="#008000"/>
<rect x="363" y="90" width="1" height="17" fill="#000"/>
<rect x="362" y="91" width="3" height="16" fill="#000"/>
<rect x="363" y="92" width="1" height="14" fill="#008000"/>
<rect x="367" y="88" width="1" height="12" fill="#000"/>
<rect x="366" y="92" width="3" height="6" fill="#000"/>
<rect x="367" y="93" width="1" height="4" fill="#ff0000"/>
<rect x="371" y="98" width="1" height="17" fill="#000"/>
<rect x="370" y="98" width="3" height="15" fill="#000"/>
<rect x="371" y="99" width="1" height="13" fill="#ff0000"/>
<rect x="375" y="103" width="1" height="12" fill="#000"/>
<rect x="374" y="109" width="3" height="2" fill="#000"/>
<rect x="379" y="110" width="1" height="4" fill="#000"/>
<rect x="378" y="110" width="3" height="4" fill="#000"/>
<rect x="379" y="111" width="1" height="2" fill="#ff0000"/>
<rect x="383" y="112" width="1" height="5" fill="#000"/>
<rect x="382" y="114" width="3" height="1" fill="#000"/>
<rect x="387" y="108" width="1" height="7" fill="#000"/>
<rect x="386" y="113" width="3" height="1" fill="#000"/>
<rect x="391" y="112" width="1" height="11" fill="#000"/>
<rect x="390" y="112" width="3" height="5" fill="#000"/>
<rect x="391" y="113" width="1" height="3" fill="#ff0000"/>
<rect x="395" y="108" width="1" height="12" fill="#000"/>
<rect x="394" y="115" width="3" height="4" fill="#000"/>
<rect x="395" y="116" width="1" height="2" fill="#ff0000"/>
<rect x="399" y="117" width="1" height="7" fill="#000"/>
<rect x="398" y="118" width="3" height="3" fill="#000"/>
<rect x="399" y="119" width="1" height="1" fill="#ff0000"/>
<rect x="403" y="120" width="1" height="8" fill="#000"/>
<rect x="402" y="121" width="3" height="2" fill="#000"/>
<rect x="407" y="115" width="1" height="9" fill="#000"/>
<rect x="406" y="116" width="3" height="6" fill="#000"/>
<rect x="407" y="117" width="1" height="4" fill="#008000"/>
<rect x="411" y="109" width="1" height="8" fill="#000"/>
<rect x="410" y="110" width="3" height="6" fill="#000"/>
<rect x="411" y="111" width="1" height="4" fill="#008000"/>
<rect x="415" y="105" width="1" height="17" fill="#000"/>
<rect x="414" y="110" width="3" height="11" fill="#000"/>
<rect x="415" y="111" width="1" height="9" fill="#ff0000"/>
<rect x="419" y="121" width="1" height="17" fill="#000"/>
<rect x="418" y="121" width="3" height="17" fill="#000"/>
<rect x="419" y="122" width="1" height="15" fill="#ff0000"/>
<rect x="423" y="134" width="1" height="10" fill="#000"/>
<rect x="422" y="137" width="3" height="1" fill="#000"/>
<rect x="427" y="138" width="1" height="8" fill="#000"/>
<rect x="426" y="139" width="3" height="3" fill="#000"/>
<rect x="427" y="140" width="1" height="1" fill="#008000"/>
<rect x="431" y="139" width="1" height="12" fill="#000"/>
<rect x="430" y="139" width="3" height="1" fill="#000"/>
<rect x="435" y="142" width="1" height="30" fill="#000"/>
<rect x="434" y="143" width="3" height="27" fill="#000"/>
<rect x="435" y="144" width="1" height="25" fill="#ff0000"/>
<rect x="439" y="170" width="1" height="38" fill="#000"/>
<rect x="438" y="172" width="3" height="35" fill="#000"/>
<rect x="439" y="173" width="1" height="33" fill="#ff0000"/>
<rect x="443" y="163" width="1" height="45" fill="#000"/>
<rect x="442" y="168" width="3" height="37" fill="#000"/>
<rect x="443" y="169" width="1" height="35" fill="#008000"/>
<rect x="447" y="164" width="1" height="22" fill="#000"/>
<rect x="446" y="168" width="3" height="16" fill="#000"/>
<rect x="447" y="169" width="1" height="14" fill="#ff0000"/>
<rect x="451" y="182" width="1" height="21" fill="#000"/>
<rect x="450" y="182" width="3" height="17" fill="#000"/>
<rect x="451" y="183" width="1" height="15" fill="#ff0000"/>
<rect x="455" y="200" width="1" height="25" fill="#000"/>
<rect x="454" y="200" width="3" height="24" fill="#000"/>
<rect x="455" y="201" width="1" height="22" fill="#ff0000"/>
<rect x="459" y="219" width="1" height="31" fill="#000"/>
<rect x="458" y="224" width="3" height="12" fill="#000"/>
<rect x="459" y="225" width="1" height="10" fill="#ff0000"/>
<rect x="463" y="227" width="1" height="10" fill="#000"/>
<rect x="462" y="234" width="3" height="2" fill="#000"/>
<rect x="467" y="223" width="1" height="12" fill="#000"/>
<rect x="466" y="225" width="3" height="10" fill="#000"/>
<rect x="467" y="226" width="1" height="8" fill="#008000"/>
<rect x="471" y="222" width="1" height="3" fill="#000"/>
<rect x="470" y="222" width="3" height="3" fill="#000"/>
<rect x="471" y="223" width="1" height="1" fill="#008000"/>
<rect x="475" y="218" width="1" height="3" fill="#000"/>
<rect x="474" y="218" width="3" height="3" fill="#000"/>
<rect x="475" y="219" width="1" height="1" fill="#ff0000"/>
<rect x="479" y="218" width="1" height="5" fill="#000"/>
<rect x="478" y="220" width="3" height="1" fill="#000"/>
<rect x="483" y="210" width="1" height="12" fill="#000"/>
<rect x="482" y="212" width="3" height="9" fill="#000"/>
<rect x="483" y="213" width="1" height="7" fill="#008000"/>
<rect x="487" y="212" width="1" height="10" fill="#000"/>
<rect x="486" y="213" width="3" height="6" fill="#000"/>
<rect x="487" y="214" width="1" height="4" fill="#ff0000"/>
<rect x="491" y="213" width="1" height="7" fill="#000"/>
<rect x="490" y="216" width="3" height="3" fill="#000"/>
<rect x="491" y="217" width="1" height="1" fill="#008000"/>
<rect x="495" y="216" width="1" height="10" fill="#000"/>
<rect x="494" y="218" width="3" height="4" fill="#000"/>
<rect x="495" y="219" width="1" height="2" fill="#ff0000"/>
<rect x="499" y="214" width="1" height="8" fill="#000"/>
<rect x="498" y="215" width="3" height="7" fill="#000"/>
<rect x="499" y="216" width="1" height="5" fill="#008000"/>
<rect x="503" y="210" width="1" height="8" fill="#000"/>
<rect x="502" y="211" width="3" height="6" fill="#000"/>
<rect x="503" y="212" width="1" height="4" fill="#008000"/>
<rect x="507" y="203" width="1" height="12" fill="#000"/>
<rect x="506" y="212" width="3" height="2" fill="#000"/>
<rect x="511" y="211" width="1" height="14" fill="#000"/>
<rect x="510" y="212" width="3" height="3" fill="#000"/>
<rect x="511" y="213" width="1" height="1" fill="#ff0000"/>
<rect x="515" y="191" width="1" height="26" fill="#000"/>
<rect x="514" y="194" width="3" height="23" fill="#000"/>
<rect x="515" y="195" width="1" height="21" fill="#008000"/>
<rect x="519" y="180" width="1" height="20" fill="#000"/>
<rect x="518" y="183" width="3" height="11" fill="#000"/>
<rect x="519" y="184" width="1" height="9" fill="#008000"/>
<rect x="523" y="171" width="1" height="15" fill="#000"/>
<rect x="522" y="172" width="3" height="10" fill="#000"/>
<rect x="523" y="173" width="1" height="8" fill="#008000"/>
<rect x="527" y="174" width="1" height="15" fill="#000"/>
<rect x="526" y="174" width="3" height="14" fill="#000"/>
<rect x="527" y="175" width="1" height="12" fill="#ff0000"/>
<rect x="531" y="175" width="1" height="32" fill="#000"/>
<rect x="530" y="188" width="3" height="11" fill="#000"/>
<rect x="531" y="189" width="1" height="9" fill="#ff0000"/>
<rect x="535" y="179" width="1" height="23" fill="#000"/>
<rect x="534" y="179" width="3" height="19" fill="#000"/>
<rect x="535" y="180" width="1" height="17" fill="#008000"/>
<rect x="539" y="161" width="1" height="28" fill="#000"/>
<rect x="538" y="180" width="3" height="5" fill="#000"/>
<rect x="539" y="181" width="1" height="3" fill="#ff0000"/>
<rect x="543" y="184" width="1" height="24" fill="#000"/>
<rect x="542" y="185" width="3" height="19" fill="#000"/>
<rect x="543" y="186" width="1" height="17" fill="#ff0000"/>
<rect x="547" y="195" width="1" height="15" fill="#000"/>
<rect x="546" y="195" width="3" height="9" fill="#000"/>
<rect x="547" y="196" width="1" height="7" fill="#008000"/>
<rect x="551" y="196" width="1" height="12" fill="#000"/>
<rect x="550" y="196" width="3" height="12" fill="#000"/>
<rect x="551" y="197" width="1" height="10" fill="#ff0000"/>
<rect x="555" y="205" width="1" height="11" fill="#000"/>
<rect x="554" y="207" width="3" height="8" fill="#000"/>
<rect x="555" y="208" width="1" height="6" fill="#ff0000"/>
<rect x="559" y="208" width="1" height="10" fill="#000"/>
<rect x="558" y="212" width="3" height="5" fill="#000"/>
<rect x="559" y="213" width="1" height="3" fill="#008000"/>
<rect x="563" y="207" width="1" height="12" fill="#000"/>
<rect x="562" y="211" width="3" height="7" fill="#000"/>
<rect x="563" y="212" width="1" height="5" fill="#ff0000"/>
<rect x="567" y="207" width="1" height="7" fill="#000"/>
<rect x="566" y="209" width="3" height="4" fill="#000"/>
<rect x="567" y="210" width="1" height="2" fill="#ff0000"/>
<rect x="571" y="212" width="1" height="10" fill="#000"/>
<rect x="570" y="212" width="3" height="9" fill="#000"/>
<rect x="571" y="213" width="1" height="7" fill="#ff0000"/>
<rect x="575" y="213" width="1" height="12" fill="#000"/>
<rect x="574" y="217" width="3" height="3" fill="#000"/>
<rect x="575" y="218" width="1" height="1" fill="#008000"/>
<rect x="579" y="216" width="1" height="26" fill="#000"/>
<rect x="578" y="216" width="3" height="14" fill="#000"/>
<rect x="579" y="217" width="1" height="12" fill="#ff0000"/>
<rect x="583" y="223" width="1" height="12" fill="#000"/>
<rect x="582" y="223" width="3" height="8" fill="#000"/>
<rect x="583" y="224" width="1" height="6" fill="#008000"/>
<rect x="587" y="220" width="1" height="8" fill="#000"/>
<rect x="586" y="220" width="3" height="5" fill="#000"/>
<rect x="587" y="221" width="1" height="3" fill="#008000"/>
<rect x="591" y="219" width="1" height="5" fill="#000"/>
<rect x="590" y="221" width="3" height="1" fill="#000"/>
</g>
<clipPath id="c1"><rect x="3" y="313" width="616" height="71"/></clipPath><g clip-path="url(#c1)">
<polyline points="3.0,343.0 10.0,343.0 15.0,342.0 20.0,343.5 25.0,346.3 30.0,347.5 35.0,351.3 40.0,347.0 45.0,346.3 50.0,342.5 53.0,343.5 57.0,344.5 62.0,339.5 64.0,342.5 67.0,350.0 71.0,345.0 75.0,352.5 79.0,347.0 83.0,348.0 90.0,350.0 95.0,351.3 103.0,351.3 108.0,347.5 111.0,348.8 115.0,345.0 120.0,343.0 125.0,345.0 130.0,348.0 135.0,348.0 140.0,346.3 147.0,346.3 152.0,349.3 156.0,347.5 159.0,342.5 163.0,334.0 165.0,338.0 167.0,341.3 172.0,342.5 177.0,343.3 182.0,342.0 187.0,341.5 192.0,342.5 197.0,341.5 202.0,342.5 207.0,341.5 211.0,343.8 216.0,341.5 222.0,342.0 226.0,345.0 231.0,346.8 236.0,345.0 241.0,341.3 245.0,340.5 250.0,342.0 255.0,339.5 259.0,342.0 263.0,344.5 267.0,340.5 271.0,346.3 275.0,350.0 279.0,352.0 285.0,352.5 287.0,353.8 291.0,351.3 297.0,351.3 300.0,353.8 304.0,357.5 307.0,360.0 310.0,358.0 314.0,355.5 320.0,353.0 323.0,346.3 327.0,351.3 331.0,349.0 335.0,346.3 340.0,345.0 343.0,343.0 347.0,353.0 352.0,348.8 358.0,345.0 364.0,342.0 368.0,343.8 372.0,348.8 377.0,349.5 383.0,350.0 390.0,349.5 395.0,351.3 402.0,352.0 407.0,348.8 411.0,347.0 415.0,351.3 419.0,356.3 425.0,358.0 430.0,358.0 433.0,361.3 437.0,367.0 439.0,371.3 441.0,365.0 444.0,357.5 449.0,360.0 454.0,363.8 459.0,366.3 464.0,366.5 468.0,363.8 472.0,361.3 480.0,361.0 483.0,358.8 485.0,357.5 488.0,359.3 495.0,359.8 500.0,357.0 505.0,356.5 510.0,356.5 512.0,355.0 515.0,350.0 518.0,347.5 523.0,343.0 526.0,344.0 529.0,347.5 532.0,350.5 535.0,347.0 538.0,346.5 541.0,348.0 544.0,351.3 547.0,350.0 551.0,353.0 555.0,354.3 559.0,353.0 563.0,354.5 567.0,353.8 571.0,355.0 575.0,354.3 579.0,357.0 583.0,354.5 587.0,353.5 591.0,353.5" fill="none" stroke="#ff0000" stroke-width="1" />
<polyline points="3.0,351.3 10.0,349.5 20.0,348.5 40.0,348.0 50.0,347.0 60.0,345.5 70.0,346.5 80.0,347.5 100.0,348.0 120.0,348.0 140.0,347.5 165.0,346.0 177.0,345.5 190.0,343.8 210.0,343.5 230.0,343.3 245.0,342.5 260.0,342.5 270.0,343.0 280.0,344.5 290.0,347.0 300.0,348.8 310.0,350.8 315.0,351.3 325.0,351.3 330.0,350.5 340.0,349.5 350.0,348.8 360.0,348.0 367.0,347.5 375.0,348.5 390.0,349.5 410.0,349.5 420.0,351.3 430.0,353.8 440.0,356.3 450.0,357.0 460.0,358.8 467.0,360.5 475.0,360.5 485.0,360.3 495.0,360.0 505.0,358.8 510.0,358.3 520.0,356.3 530.0,353.8 540.0,352.0 550.0,352.0 560.0,353.3 575.0,353.5 591.0,353.3" fill="none" stroke="#0000ff" stroke-width="1" />
</g>
<clipPath id="c2"><rect x="3" y="387" width="616" height="74"/></clipPath><g clip-path="url(#c2)">
<polyline points="2.5,394.0 6.0,389.5 10.5,390.2 14.5,391.6 18.5,396.5 22.5,406.2 26.5,424.0 30.5,442.9 34.5,455.9 38.5,453.2 42.5,438.2 46.5,414.8 50.5,397.0 54.5,390.1 58.5,391.2 62.5,393.5 66.5,402.3 70.5,411.8 74.5,428.2 78.5,430.6 82.5,434.5 86.5,429.3 90.5,434.1 94.5,440.5 98.5,450.4 102.5,456.2 106.5,447.1 110.5,432.4 114.5,413.0 118.5,403.7 122.5,397.6 126.5,398.1 130.5,408.1 134.5,424.5 138.5,441.8 142.5,444.6 146.5,433.5 150.5,420.4 154.5,418.1 158.5,420.6 162.5,413.1 166.5,404.0 170.5,401.5 174.5,412.1 178.5,421.3 182.5,428.3 186.5,427.2 190.5,414.6 194.5,404.0 198.5,396.2 202.5,407.3 206.5,409.8 210.5,422.0 214.5,420.1 218.5,421.2 222.5,409.5 226.5,410.9 230.5,422.0 234.5,438.2 238.5,437.0 242.5,421.2 246.5,402.2 250.5,394.4 254.5,395.3 258.5,403.4 262.5,414.3 266.5,424.4 270.5,432.4 274.5,438.3 278.5,448.4 282.5,455.5 286.5,460.0 290.5,458.3 294.5,451.5 298.5,440.8 302.5,438.6 306.5,445.2 310.5,453.2 314.5,451.3 318.5,438.7 322.5,421.4 326.5,406.7 330.5,399.3 334.5,399.8 338.5,398.2 342.5,395.1 346.5,402.6 350.5,414.5 354.5,428.6 358.5,424.7 362.5,413.8 366.5,401.2 370.5,401.8 374.5,417.2 378.5,438.9 382.5,454.2 386.5,459.2 390.5,457.6 394.5,454.8 398.5,455.7 402.5,457.0 406.5,451.8 410.5,435.7 414.5,420.1 418.5,424.0 422.5,440.0 426.5,455.7 430.5,460.0 434.5,460.4 438.5,460.2 442.5,454.5 446.5,446.8 450.5,437.3 454.5,438.4 458.5,445.1 462.5,454.8 466.5,457.5 470.5,452.5 474.5,437.9 478.5,415.7 482.5,397.3 486.5,391.2 490.5,399.0 494.5,416.5 498.5,426.8 502.5,427.9 506.5,412.9 510.5,402.8 514.5,396.4 518.5,395.3 522.5,391.5 526.5,392.2 530.5,399.1 534.5,411.1 538.5,421.8 542.5,427.6 546.5,432.9 550.5,440.1 554.5,447.9 558.5,453.9 562.5,455.7 566.5,454.4 570.5,452.8 574.5,447.0 578.5,448.6 582.5,446.2 586.5,443.7 590.5,431.5" fill="none" stroke="#ff0000" stroke-width="1" stroke-dasharray="3,3"/>
<polyline points="3.5,391.5 7.5,387.7 11.5,391.5 15.5,395.7 19.5,402.3 23.5,420.7 27.5,449.0 31.5,459.0 35.5,459.8 39.5,440.7 43.5,414.0 47.5,389.8 51.5,387.3 55.5,393.2 59.5,393.2 63.5,394.0 67.5,419.8 71.5,421.5 75.5,443.2 79.5,427.0 83.5,433.2 87.5,427.7 91.5,441.5 95.5,452.3 99.5,457.3 103.5,459.0 107.5,425.0 111.5,413.2 115.5,400.7 119.5,397.3 123.5,394.8 127.5,402.3 131.5,427.3 135.5,444.0 139.5,454.0 143.5,435.7 147.5,410.7 151.5,414.8 155.5,428.7 159.5,418.2 163.5,392.3 167.5,401.5 171.5,410.7 175.5,424.0 179.5,429.3 183.5,431.5 187.5,420.7 191.5,391.5 195.5,399.8 199.5,397.3 203.5,424.8 207.5,407.3 211.5,434.0 215.5,419.0 219.5,410.7 223.5,398.7 227.5,423.2 231.5,444.0 235.5,447.3 239.5,419.8 243.5,396.5 247.5,390.3 251.5,396.5 255.5,399.0 259.5,414.8 263.5,429.0 267.5,429.3 271.5,439.0 275.5,446.5 279.5,459.8 283.5,460.3 287.5,459.8 291.5,454.8 295.5,439.8 299.5,427.7 303.5,448.2 307.5,459.8 311.5,451.5 315.5,442.5 319.5,422.0 323.5,399.8 327.5,398.2 331.5,399.8 335.5,401.5 339.5,393.2 343.5,390.7 347.5,424.0 351.5,428.7 355.5,433.2 359.5,412.3 363.5,396.0 367.5,395.3 371.5,414.0 375.5,442.3 379.5,460.5 383.5,459.8 387.5,457.3 391.5,455.7 395.5,451.5 399.5,459.8 403.5,459.8 407.5,435.7 411.5,411.5 415.5,413.2 419.5,447.3 423.5,459.5 427.5,460.3 431.5,460.3 435.5,460.5 439.5,459.8 443.5,443.2 447.5,437.3 451.5,431.5 455.5,446.5 459.5,457.3 463.5,460.5 467.5,454.8 471.5,442.3 475.5,416.5 479.5,388.2 483.5,387.3 487.5,398.2 491.5,411.5 495.5,439.8 499.5,429.0 503.5,414.8 507.5,394.8 511.5,398.7 515.5,395.7 519.5,391.5 523.5,387.3 527.5,397.8 531.5,412.3 535.5,423.2 539.5,429.8 543.5,429.8 547.5,439.0 551.5,451.5 555.5,453.2 559.5,457.0 563.5,457.0 567.5,449.3 571.5,452.0 575.5,439.8 579.5,454.0 583.5,444.8 587.5,432.3 591.5,417.3" fill="none" stroke="#20b2aa" stroke-width="1" />
</g>
<clipPath id="c3"><rect x="3" y="464" width="616" height="75"/></clipPath><g clip-path="url(#c3)">
<rect x="3" y="487" width="1" height="5" fill="#c0c0c0"/>
<rect x="7" y="487" width="1" height="2" fill="#c0c0c0"/>
<rect x="11" y="487" width="1" height="1" fill="#c0c0c0"/>
<rect x="15" y="484" width="1" height="5" fill="#c0c0c0"/>
<rect x="19" y="484" width="1" height="5" fill="#c0c0c0"/>
<rect x="23" y="484" width="1" height="5" fill="#c0c0c0"/>
<rect x="27" y="486" width="1" height="3" fill="#c0c0c0"/>
<rect x="31" y="486" width="1" height="3" fill="#c0c0c0"/>
<rect x="35" y="486" width="1" height="3" fill="#c0c0c0"/>
<rect x="39" y="486" width="1" height="3" fill="#c0c0c0"/>
<rect x="43" y="482" width="1" height="5" fill="#c0c0c0"/>
<rect x="47" y="482" width="1" height="5" fill="#c0c0c0"/>
<rect x="51" y="482" width="1" height="5" fill="#c0c0c0"/>
<rect x="55" y="482" width="1" height="5" fill="#c0c0c0"/>
<rect x="59" y="482" width="1" height="5" fill="#c0c0c0"/>
<rect x="63" y="479" width="1" height="9" fill="#c0c0c0"/>
<rect x="67" y="487" width="1" height="6" fill="#c0c0c0"/>
<rect x="71" y="483" width="1" height="5" fill="#c0c0c0"/>
<rect x="75" y="484" width="1" height="4" fill="#c0c0c0"/>
<rect x="79" y="483" width="1" height="5" fill="#c0c0c0"/>
<rect x="83" y="486" width="1" height="2" fill="#c0c0c0"/>
<rect x="87" y="486" width="1" height="2" fill="#c0c0c0"/>
<rect x="91" y="486" width="1" height="2" fill="#c0c0c0"/>
<rect x="95" y="486" width="1" height="2" fill="#c0c0c0"/>
<rect x="99" y="487" width="1" height="4" fill="#c0c0c0"/>
<rect x="103" y="487" width="1" height="5" fill="#c0c0c0"/>
<rect x="107" y="487" width="1" height="1" fill="#c0c0c0"/>
<rect x="111" y="486" width="1" height="2" fill="#c0c0c0"/>
<rect x="115" y="486" width="1" height="2" fill="#c0c0c0"/>
<rect x="119" y="485" width="1" height="3" fill="#c0c0c0"/>
<rect x="123" y="484" width="1" height="4" fill="#c0c0c0"/>
<rect x="127" y="484" width="1" height="4" fill="#c0c0c0"/>
<rect x="131" y="484" width="1" height="4" fill="#c0c0c0"/>
<rect x="135" y="484" width="1" height="4" fill="#c0c0c0"/>
<rect x="139" y="484" width="1" height="3" fill="#c0c0c0"/>
<rect x="143" y="484" width="1" height="3" fill="#c0c0c0"/>
<rect x="147" y="484" width="1" height="3" fill="#c0c0c0"/>
<rect x="151" y="484" width="1" height="3" fill="#c0c0c0"/>
<rect x="155" y="484" width="1" height="3" fill="#c0c0c0"/>
<rect x="159" y="484" width="1" height="4" fill="#c0c0c0"/>
<rect x="163" y="476" width="1" height="12" fill="#c0c0c0"/>
<rect x="167" y="474" width="1" height="13" fill="#c0c0c0"/>
<rect x="171" y="473" width="1" height="15" fill="#c0c0c0"/>
<rect x="175" y="472" width="1" height="16" fill="#c0c0c0"/>
<rect x="179" y="472" width="1" height="16" fill="#c0c0c0"/>
<rect x="183" y="471" width="1" height="17" fill="#c0c0c0"/>
<rect x="187" y="471" width="1" height="17" fill="#c0c0c0"/>
<rect x="191" y="470" width="1" height="18" fill="#c0c0c0"/>
<rect x="195" y="470" width="1" height="18" fill="#c0c0c0"/>
<rect x="199" y="470" width="1" height="18" fill="#c0c0c0"/>
<rect x="203" y="470" width="1" height="18" fill="#c0c0c0"/>
<rect x="207" y="470" width="1" height="18" fill="#c0c0c0"/>
<rect x="211" y="471" width="1" height="17" fill="#c0c0c0"/>
<rect x="215" y="471" width="1" height="17" fill="#c0c0c0"/>
<rect x="219" y="471" width="1" height="17" fill="#c0c0c0"/>
<rect x="223" y="472" width="1" height="17" fill="#c0c0c0"/>
<rect x="227" y="472" width="1" height="16" fill="#c0c0c0"/>
<rect x="231" y="474" width="1" height="14" fill="#c0c0c0"/>
<rect x="235" y="475" width="1" height="13" fill="#c0c0c0"/>
<rect x="239" y="474" width="1" height="14" fill="#c0c0c0"/>
<rect x="243" y="474" width="1" height="14" fill="#c0c0c0"/>
<rect x="247" y="473" width="1" height="15" fill="#c0c0c0"/>
<rect x="251" y="474" width="1" height="14" fill="#c0c0c0"/>
<rect x="255" y="473" width="1" height="15" fill="#c0c0c0"/>
<rect x="259" y="474" width="1" height="14" fill="#c0c0c0"/>
<rect x="263" y="475" width="1" height="13" fill="#c0c0c0"/>
<rect x="267" y="474" width="1" height="14" fill="#c0c0c0"/>
<rect x="271" y="476" width="1" height="12" fill="#c0c0c0"/>
<rect x="275" y="478" width="1" height="10" fill="#c0c0c0"/>
<rect x="279" y="481" width="1" height="7" fill="#c0c0c0"/>
<rect x="283" y="484" width="1" height="4" fill="#c0c0c0"/>
<rect x="287" y="486" width="1" height="2" fill="#c0c0c0"/>
<rect x="291" y="487" width="1" height="1" fill="#c0c0c0"/>
<rect x="295" y="487" width="1" height="1" fill="#c0c0c0"/>
<rect x="299" y="487" width="1" height="2" fill="#c0c0c0"/>
<rect x="303" y="487" width="1" height="5" fill="#c0c0c0"/>
<rect x="307" y="487" width="1" height="7" fill="#c0c0c0"/>
<rect x="311" y="487" width="1" height="9" fill="#c0c0c0"/>
<rect x="315" y="487" width="1" height="9" fill="#c0c0c0"/>
<rect x="319" y="487" width="1" height="7" fill="#c0c0c0"/>
<rect x="323" y="487" width="1" height="7" fill="#c0c0c0"/>
<rect x="327" y="487" width="1" height="7" fill="#c0c0c0"/>
<rect x="331" y="487" width="1" height="6" fill="#c0c0c0"/>
<rect x="335" y="487" width="1" height="3" fill="#c0c0c0"/>
<rect x="339" y="487" width="1" height="2" fill="#c0c0c0"/>
<rect x="343" y="487" width="1" height="1" fill="#c0c0c0"/>
<rect x="347" y="487" width="1" height="1" fill="#c0c0c0"/>
<rect x="351" y="487" width="1" height="1" fill="#c0c0c0"/>
<rect x="355" y="487" width="1" height="1" fill="#c0c0c0"/>
<rect x="359" y="487" width="1" height="1" fill="#c0c0c0"/>
<rect x="363" y="484" width="1" height="4" fill="#c0c0c0"/>
<rect x="367" y="483" width="1" height="5" fill="#c0c0c0"/>
<rect x="371" y="485" width="1" height="3" fill="#c0c0c0"/>
<rect x="375" y="486" width="1" height="2" fill="#c0c0c0"/>
<rect x="379" y="487" width="1" height="1" fill="#c0c0c0"/>
<rect x="383" y="487" width="1" height="1" fill="#c0c0c0"/>
<rect x="387" y="487" width="1" height="1" fill="#c0c0c0"/>
<rect x="391" y="487" width="1" height="1" fill="#c0c0c0"/>
<rect x="395" y="487" width="1" height="1" fill="#c0c0c0"/>
<rect x="399" y="487" width="1" height="1" fill="#c0c0c0"/>
<rect x="403" y="487" width="1" height="2" fill="#c0c0c0"/>
<rect x="407" y="487" width="1" height="2" fill="#c0c0c0"/>
<rect x="411" y="487" width="1" height="2" fill="#c0c0c0"/>
<rect x="415" y="487" width="1" height="2" fill="#c0c0c0"/>
<rect x="419" y="487" width="1" height="1" fill="#c0c0c0"/>
<rect x="423" y="487" width="1" height="7" fill="#c0c0c0"/>
<rect x="427" y="487" width="1" height="10" fill="#c0c0c0"/>
<rect x="431" y="487" width="1" height="11" fill="#c0c0c0"/>
<rect x="435" y="487" width="1" height="16" fill="#c0c0c0"/>
<rect x="439" y="487" width="1" height="25" fill="#c0c0c0"/>
<rect x="443" y="487" width="1" height="26" fill="#c0c0c0"/>
<rect x="447" y="487" width="1" height="28" fill="#c0c0c0"/>
<rect x="451" y="487" width="1" height="31" fill="#c0c0c0"/>
<rect x="455" y="487" width="1" height="38" fill="#c0c0c0"/>
<rect x="459" y="487" width="1" height="44" fill="#c0c0c0"/>
<rect x="463" y="487" width="1" height="47" fill="#c0c0c0"/>
<rect x="467" y="487" width="1" height="49" fill="#c0c0c0"/>
<rect x="471" y="487" width="1" height="49" fill="#c0c0c0"/>
<rect x="475" y="487" width="1" height="48" fill="#c0c0c0"/>
<rect x="479" y="487" width="1" height="47" fill="#c0c0c0"/>
<rect x="483" y="487" width="1" height="44" fill="#c0c0c0"/>
<rect x="487" y="487" width="1" height="42" fill="#c0c0c0"/>
<rect x="491" y="487" width="1" height="41" fill="#c0c0c0"/>
<rect x="495" y="487" width="1" height="39" fill="#c0c0c0"/>
<rect x="499" y="487" width="1" height="37" fill="#c0c0c0"/>
<rect x="503" y="487" width="1" height="35" fill="#c0c0c0"/>
<rect x="507" y="487" width="1" height="32" fill="#c0c0c0"/>
<rect x="511" y="487" width="1" height="31" fill="#c0c0c0"/>
<rect x="515" y="487" width="1" height="29" fill="#c0c0c0"/>
<rect x="519" y="487" width="1" height="21" fill="#c0c0c0"/>
<rect x="523" y="487" width="1" height="15" fill="#c0c0c0"/>
<rect x="527" y="487" width="1" height="11" fill="#c0c0c0"/>
<rect x="531" y="487" width="1" height="11" fill="#c0c0c0"/>
<rect x="535" y="487" width="1" height="7" fill="#c0c0c0"/>
<rect x="539" y="487" width="1" height="5" fill="#c0c0c0"/>
<rect x="543" y="487" width="1" height="7" fill="#c0c0c0"/>
<rect x="547" y="487" width="1" height="9" fill="#c0c0c0"/>
<rect x="551" y="487" width="1" height="10" fill="#c0c0c0"/>
<rect x="555" y="487" width="1" height="11" fill="#c0c0c0"/>
<rect x="559" y="487" width="1" height="12" fill="#c0c0c0"/>
<rect x="563" y="487" width="1" height="13" fill="#c0c0c0"/>
<rect x="567" y="487" width="1" height="13" fill="#c0c0c0"/>
<rect x="571" y="487" width="1" height="13" fill="#c0c0c0"/>
<rect x="575" y="487" width="1" height="13" fill="#c0c0c0"/>
<rect x="579" y="487" width="1" height="14" fill="#c0c0c0"/>
<rect x="583" y="487" width="1" height="15" fill="#c0c0c0"/>
<rect x="587" y="487" width="1" height="15" fill="#c0c0c0"/>
<rect x="591" y="487" width="1" height="14" fill="#c0c0c0"/>
<polyline points="3.0,498.7 8.0,498.5 12.0,497.0 17.0,494.2 22.0,490.8 27.0,488.0 33.0,485.8 40.0,484.2 50.0,483.3 58.0,482.5 66.0,481.3 75.0,480.3 85.0,480.3 90.0,480.8 95.0,482.5 100.0,484.2 105.0,485.8 110.0,487.0 117.0,488.0 123.0,488.3 130.0,487.5 137.0,486.3 145.0,485.3 155.0,484.7 163.0,483.3 170.0,480.8 177.0,478.3 185.0,475.8 190.0,473.3 195.0,471.3 200.0,470.0 205.0,469.5 228.0,469.5 232.0,470.8 240.0,472.0 250.0,472.8 260.0,473.3 273.0,473.5 280.0,474.7 287.0,476.7 295.0,480.0 300.0,482.3 305.0,485.0 310.0,488.0 315.0,490.2 320.0,491.5 325.0,492.5 330.0,493.8 335.0,494.5 340.0,494.3 345.0,493.3 350.0,492.0 355.0,490.8 360.0,489.7 365.0,488.7 370.0,487.0 377.0,485.8 385.0,485.3 400.0,485.3 402.0,485.8 407.0,487.0 412.0,488.3 418.0,489.2 427.0,490.8 433.0,492.0 437.0,493.3 442.0,495.8 447.0,500.0 452.0,504.2 457.0,510.0 462.0,515.8 467.0,520.8 472.0,525.0 477.0,528.3 482.0,530.8 487.0,532.5 495.0,532.5 500.0,530.8 505.0,528.3 510.0,525.8 515.0,523.3 520.0,520.3 525.0,516.2 530.0,512.5 535.0,509.0 540.0,505.0 545.0,501.7 550.0,499.2 555.0,497.0 560.0,495.8 565.0,495.3 570.0,495.3 575.0,496.3 580.0,498.0 585.0,499.2 591.0,500.0" fill="none" stroke="#ff0000" stroke-width="1" />
</g>
<rect x="2" y="2" width="618" height="1" fill="#000"/>
<rect x="2" y="2" width="1" height="309" fill="#000"/>
<rect x="619" y="2" width="1" height="309" fill="#000"/>
<rect x="2" y="310" width="618" height="1" fill="#000"/>
<rect x="2" y="312" width="618" height="1" fill="#000"/>
<rect x="2" y="312" width="1" height="73" fill="#000"/>
<rect x="619" y="312" width="1" height="73" fill="#000"/>
<rect x="2" y="384" width="618" height="1" fill="#000"/>
<rect x="2" y="386" width="618" height="1" fill="#000"/>
<rect x="2" y="386" width="1" height="76" fill="#000"/>
<rect x="619" y="386" width="1" height="76" fill="#000"/>
<rect x="2" y="461" width="618" height="1" fill="#000"/>
<rect x="2" y="463" width="618" height="1" fill="#000"/>
<rect x="2" y="463" width="1" height="77" fill="#000"/>
<rect x="619" y="463" width="1" height="77" fill="#000"/>
<rect x="2" y="539" width="618" height="1" fill="#000"/>
<rect x="620" y="38" width="2" height="1" fill="#000"/>
<rect x="620" y="71" width="2" height="1" fill="#000"/>
<rect x="620" y="105" width="2" height="1" fill="#000"/>
<rect x="620" y="140" width="2" height="1" fill="#000"/>
<rect x="620" y="173" width="2" height="1" fill="#000"/>
<rect x="620" y="207" width="2" height="1" fill="#000"/>
<rect x="620" y="240" width="2" height="1" fill="#000"/>
<rect x="620" y="273" width="2" height="1" fill="#000"/>
<rect x="620" y="307" width="2" height="1" fill="#000"/>
<rect x="620" y="314" width="1" height="1" fill="#000"/>
<rect x="620" y="383" width="1" height="1" fill="#000"/>
<rect x="620" y="388" width="1" height="1" fill="#000"/>
<rect x="620" y="460" width="1" height="1" fill="#000"/>
<rect x="620" y="465" width="1" height="1" fill="#000"/>
<rect x="620" y="538" width="1" height="1" fill="#000"/>
<rect x="620" y="487" width="1" height="1" fill="#000"/>
<rect x="3" y="540" width="1" height="3" fill="#000"/>
<rect x="67" y="540" width="1" height="3" fill="#000"/>
<rect x="131" y="540" width="1" height="3" fill="#000"/>
<rect x="195" y="540" width="1" height="3" fill="#000"/>
<rect x="259" y="540" width="1" height="3" fill="#000"/>
<rect x="323" y="540" width="1" height="3" fill="#000"/>
<rect x="387" y="540" width="1" height="3" fill="#000"/>
<rect x="451" y="540" width="1" height="3" fill="#000"/>
<rect x="515" y="540" width="1" height="3" fill="#000"/>
<rect x="579" y="540" width="1" height="3" fill="#000"/>
<rect x="621" y="121" width="36" height="11" fill="#ff0000"/>
<rect x="621" y="160" width="36" height="11" fill="#ff0000"/>
<rect x="621" y="189" width="36" height="11" fill="#ff0000"/>
<rect x="621" y="216" width="36" height="11" fill="#000"/>
<rect x="621" y="243" width="36" height="11" fill="#008000"/>
<rect x="621" y="270" width="36" height="11" fill="#008000"/>
<polygon points="6.5,9 13,9 9.75,12.5" fill="#000" shape-rendering="auto"/>
<g font-family="Liberation Sans, sans-serif" font-size="9.3px" shape-rendering="auto" text-rendering="geometricPrecision">
<text x="625.5" y="130" fill="#fff" stroke="#fff" stroke-width="0.3" text-anchor="start" textLength="27.3" lengthAdjust="spacingAndGlyphs" xml:space="preserve">15.186</text>
<text x="625.5" y="169" fill="#fff" stroke="#fff" stroke-width="0.3" text-anchor="start" textLength="27.3" lengthAdjust="spacingAndGlyphs" xml:space="preserve">15.091</text>
<text x="625.5" y="198" fill="#fff" stroke="#fff" stroke-width="0.3" text-anchor="start" textLength="27.3" lengthAdjust="spacingAndGlyphs" xml:space="preserve">15.021</text>
<text x="625.5" y="225" fill="#fff" stroke="#fff" stroke-width="0.3" text-anchor="start" textLength="27.3" lengthAdjust="spacingAndGlyphs" xml:space="preserve">14.957</text>
<text x="625.5" y="252" fill="#fff" stroke="#fff" stroke-width="0.3" text-anchor="start" textLength="27.3" lengthAdjust="spacingAndGlyphs" xml:space="preserve">14.887</text>
<text x="625.5" y="279" fill="#fff" stroke="#fff" stroke-width="0.3" text-anchor="start" textLength="27.3" lengthAdjust="spacingAndGlyphs" xml:space="preserve">14.823</text>
<text x="625.5" y="42" fill="#000" stroke="#000" stroke-width="0.3" text-anchor="start" textLength="27.3" lengthAdjust="spacingAndGlyphs" xml:space="preserve">15.405</text>
<text x="625.5" y="75" fill="#000" stroke="#000" stroke-width="0.3" text-anchor="start" textLength="27.3" lengthAdjust="spacingAndGlyphs" xml:space="preserve">15.325</text>
<text x="625.5" y="109" fill="#000" stroke="#000" stroke-width="0.3" text-anchor="start" textLength="27.3" lengthAdjust="spacingAndGlyphs" xml:space="preserve">15.240</text>
<text x="625.5" y="144" fill="#000" stroke="#000" stroke-width="0.3" text-anchor="start" textLength="27.3" lengthAdjust="spacingAndGlyphs" xml:space="preserve">15.155</text>
<text x="625.5" y="177" fill="#000" stroke="#000" stroke-width="0.3" text-anchor="start" textLength="27.3" lengthAdjust="spacingAndGlyphs" xml:space="preserve">15.075</text>
<text x="625.5" y="211" fill="#000" stroke="#000" stroke-width="0.3" text-anchor="start" textLength="27.3" lengthAdjust="spacingAndGlyphs" xml:space="preserve">14.990</text>
<text x="625.5" y="244" fill="#000" stroke="#000" stroke-width="0.3" text-anchor="start" textLength="27.3" lengthAdjust="spacingAndGlyphs" xml:space="preserve">14.910</text>
<text x="625.5" y="311" fill="#000" stroke="#000" stroke-width="0.3" text-anchor="start" textLength="27.3" lengthAdjust="spacingAndGlyphs" xml:space="preserve">14.745</text>
<text x="623.7" y="323.2" fill="#000" stroke="#000" stroke-width="0.3" text-anchor="start" textLength="14.3" lengthAdjust="spacingAndGlyphs" xml:space="preserve">100</text>
<text x="622.4" y="337.8" fill="#000" stroke="#000" stroke-width="0.3" text-anchor="start" textLength="9.7" lengthAdjust="spacingAndGlyphs" xml:space="preserve">70</text>
<text x="622.4" y="365.6" fill="#000" stroke="#000" stroke-width="0.3" text-anchor="start" textLength="9.7" lengthAdjust="spacingAndGlyphs" xml:space="preserve">30</text>
<text x="623.2" y="380.8" fill="#000" stroke="#000" stroke-width="0.3" text-anchor="start" textLength="4.8" lengthAdjust="spacingAndGlyphs" xml:space="preserve">0</text>
<text x="623.7" y="397.1" fill="#000" stroke="#000" stroke-width="0.3" text-anchor="start" textLength="14.3" lengthAdjust="spacingAndGlyphs" xml:space="preserve">100</text>
<text x="622.4" y="405.9" fill="#000" stroke="#000" stroke-width="0.3" text-anchor="start" textLength="9.7" lengthAdjust="spacingAndGlyphs" xml:space="preserve">80</text>
<text x="622.4" y="427.8" fill="#000" stroke="#000" stroke-width="0.3" text-anchor="start" textLength="9.7" lengthAdjust="spacingAndGlyphs" xml:space="preserve">50</text>
<text x="622.4" y="449.8" fill="#000" stroke="#000" stroke-width="0.3" text-anchor="start" textLength="9.7" lengthAdjust="spacingAndGlyphs" xml:space="preserve">20</text>
<text x="623.2" y="457.5" fill="#000" stroke="#000" stroke-width="0.3" text-anchor="start" textLength="4.8" lengthAdjust="spacingAndGlyphs" xml:space="preserve">0</text>
<clipPath id="ct1"><rect x="620" y="387" width="40" height="20"/></clipPath><text x="623.7" y="392.8" textLength="14.3" lengthAdjust="spacingAndGlyphs" stroke="#000" stroke-width="0.3" clip-path="url(#ct1)">100</text>
<clipPath id="ct2"><rect x="620" y="440" width="40" height="21"/></clipPath><text x="623.2" y="461.8" textLength="4.8" lengthAdjust="spacingAndGlyphs" stroke="#000" stroke-width="0.3" clip-path="url(#ct2)">0</text>
<text x="623.4" y="473.8" fill="#000" stroke="#000" stroke-width="0.3" text-anchor="start" textLength="27.5" lengthAdjust="spacingAndGlyphs" xml:space="preserve">0.0345</text>
<text x="623.4" y="490.8" fill="#000" stroke="#000" stroke-width="0.3" text-anchor="start" textLength="17.3" lengthAdjust="spacingAndGlyphs" xml:space="preserve">0.00</text>
<text x="623.4" y="536.8" fill="#000" stroke="#000" stroke-width="0.3" text-anchor="start" textLength="30.5" lengthAdjust="spacingAndGlyphs" xml:space="preserve">-0.0772</text>
<text x="18" y="13.7" fill="#000" stroke="#000" stroke-width="0.3" text-anchor="start" textLength="52.9" lengthAdjust="spacingAndGlyphs" xml:space="preserve">XAGUSD,H1</text>
<text x="78.6" y="13.7" fill="#000" stroke="#000" stroke-width="0.3" text-anchor="start" textLength="26.6" lengthAdjust="spacingAndGlyphs" xml:space="preserve">14.960</text>
<text x="109.66999999999999" y="13.7" fill="#000" stroke="#000" stroke-width="0.3" text-anchor="start" textLength="26.6" lengthAdjust="spacingAndGlyphs" xml:space="preserve">14.965</text>
<text x="140.74" y="13.7" fill="#000" stroke="#000" stroke-width="0.3" text-anchor="start" textLength="26.6" lengthAdjust="spacingAndGlyphs" xml:space="preserve">14.953</text>
<text x="171.81" y="13.7" fill="#000" stroke="#000" stroke-width="0.3" text-anchor="start" textLength="26.6" lengthAdjust="spacingAndGlyphs" xml:space="preserve">14.957</text>
<text x="7.5" y="324.7" fill="#000" stroke="#000" stroke-width="0.3" text-anchor="start" textLength="31.3" lengthAdjust="spacingAndGlyphs" xml:space="preserve">RSI(14)</text>
<text x="42" y="324.7" fill="#000" stroke="#000" stroke-width="0.3" text-anchor="start" textLength="32.5" lengthAdjust="spacingAndGlyphs" xml:space="preserve">42.9796</text>
<text x="81.3" y="324.7" fill="#000" stroke="#000" stroke-width="0.3" text-anchor="start" textLength="40.5" lengthAdjust="spacingAndGlyphs" xml:space="preserve">-&gt;MA(18)</text>
<text x="125" y="324.7" fill="#000" stroke="#000" stroke-width="0.3" text-anchor="start" textLength="33" lengthAdjust="spacingAndGlyphs" xml:space="preserve">43.0952</text>
<text x="7.5" y="399.3" fill="#000" stroke="#000" stroke-width="0.3" text-anchor="start" textLength="48" lengthAdjust="spacingAndGlyphs" xml:space="preserve">Stoch(5,3,3)</text>
<text x="59.3" y="399.3" fill="#000" stroke="#000" stroke-width="0.3" text-anchor="start" textLength="33.5" lengthAdjust="spacingAndGlyphs" xml:space="preserve">61.3208</text>
<text x="96.3" y="399.3" fill="#000" stroke="#000" stroke-width="0.3" text-anchor="start" textLength="32.5" lengthAdjust="spacingAndGlyphs" xml:space="preserve">44.5340</text>
<text x="7.5" y="475.8" fill="#000" stroke="#000" stroke-width="0.3" text-anchor="start" textLength="65.8" lengthAdjust="spacingAndGlyphs" xml:space="preserve">MACD(12,26,9)</text>
<text x="76.3" y="475.8" fill="#000" stroke="#000" stroke-width="0.3" text-anchor="start" textLength="30.7" lengthAdjust="spacingAndGlyphs" xml:space="preserve">-0.0210</text>
<text x="110.5" y="475.8" fill="#000" stroke="#000" stroke-width="0.3" text-anchor="start" textLength="30.8" lengthAdjust="spacingAndGlyphs" xml:space="preserve">-0.0190</text>
<text x="2" y="551.8" fill="#000" stroke="#000" stroke-width="0.3" text-anchor="start" textLength="46" lengthAdjust="spacingAndGlyphs" xml:space="preserve">4 Apr 2019</text>
<text x="66" y="551.8" fill="#000" stroke="#000" stroke-width="0.3" text-anchor="start" textLength="49" lengthAdjust="spacingAndGlyphs" xml:space="preserve">5 Apr 14:00</text>
<text x="130" y="551.8" fill="#000" stroke="#000" stroke-width="0.3" text-anchor="start" textLength="49" lengthAdjust="spacingAndGlyphs" xml:space="preserve">8 Apr 07:00</text>
<text x="194" y="551.8" fill="#000" stroke="#000" stroke-width="0.3" text-anchor="start" textLength="49" lengthAdjust="spacingAndGlyphs" xml:space="preserve">8 Apr 23:00</text>
<text x="258" y="551.8" fill="#000" stroke="#000" stroke-width="0.3" text-anchor="start" textLength="49" lengthAdjust="spacingAndGlyphs" xml:space="preserve">9 Apr 16:00</text>
<text x="322" y="551.8" fill="#000" stroke="#000" stroke-width="0.3" text-anchor="start" textLength="54" lengthAdjust="spacingAndGlyphs" xml:space="preserve">10 Apr 09:00</text>
<text x="386" y="551.8" fill="#000" stroke="#000" stroke-width="0.3" text-anchor="start" textLength="54" lengthAdjust="spacingAndGlyphs" xml:space="preserve">11 Apr 02:00</text>
<text x="450" y="551.8" fill="#000" stroke="#000" stroke-width="0.3" text-anchor="start" textLength="54" lengthAdjust="spacingAndGlyphs" xml:space="preserve">11 Apr 18:00</text>
<text x="514" y="551.8" fill="#000" stroke="#000" stroke-width="0.3" text-anchor="start" textLength="54" lengthAdjust="spacingAndGlyphs" xml:space="preserve">12 Apr 11:00</text>
<text x="578" y="551.8" fill="#000" stroke="#000" stroke-width="0.3" text-anchor="start" textLength="54" lengthAdjust="spacingAndGlyphs" xml:space="preserve">15 Apr 04:00</text>
</g>
</svg></body></html>
